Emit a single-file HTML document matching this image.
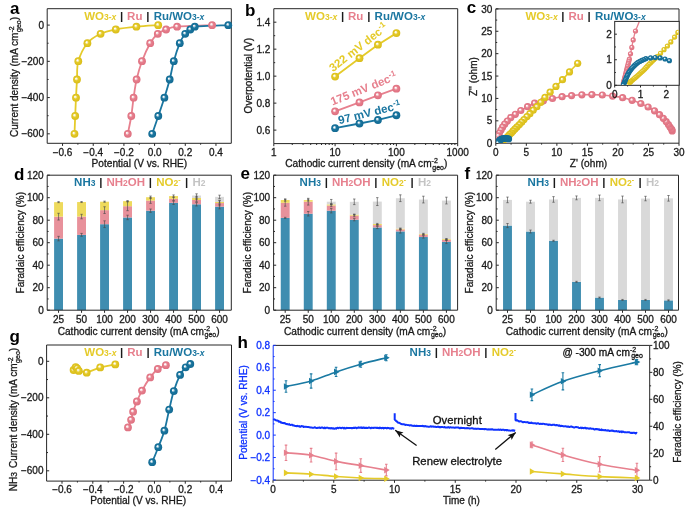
<!DOCTYPE html>
<html><head><meta charset="utf-8"><style>
html,body{margin:0;padding:0;background:#fff;}
svg{display:block;will-change:transform;}
</style></head><body>
<svg width="685" height="512" viewBox="0 0 685 512" font-family='"Liberation Sans", sans-serif'>
<defs>
<radialGradient id="gy" cx="0.5" cy="0.5" r="0.5" fx="0.38" fy="0.36"><stop offset="0" stop-color="#ffffff"/><stop offset="0.14" stop-color="#ffffff" stop-opacity="0.8"/><stop offset="0.46" stop-color="#E5CB2A"/><stop offset="1" stop-color="#D9BC18"/></radialGradient>
<radialGradient id="gp" cx="0.5" cy="0.5" r="0.5" fx="0.38" fy="0.36"><stop offset="0" stop-color="#ffffff"/><stop offset="0.14" stop-color="#ffffff" stop-opacity="0.8"/><stop offset="0.46" stop-color="#E7808E"/><stop offset="1" stop-color="#DE7080"/></radialGradient>
<radialGradient id="gb" cx="0.5" cy="0.5" r="0.5" fx="0.38" fy="0.36"><stop offset="0" stop-color="#ffffff"/><stop offset="0.14" stop-color="#ffffff" stop-opacity="0.8"/><stop offset="0.46" stop-color="#1A76A0"/><stop offset="1" stop-color="#136A92"/></radialGradient>
</defs>
<rect width="685" height="512" fill="#ffffff"/>
<text x="10" y="13.7" font-size="17" text-anchor="start" fill="#000" font-weight="bold" >a</text>
<text x="245" y="16" font-size="17" text-anchor="start" fill="#000" font-weight="bold" >b</text>
<text x="466.8" y="13.4" font-size="17" text-anchor="start" fill="#000" font-weight="bold" >c</text>
<text x="14" y="179.6" font-size="17" text-anchor="start" fill="#000" font-weight="bold" >d</text>
<text x="240.6" y="179" font-size="17" text-anchor="start" fill="#000" font-weight="bold" >e</text>
<text x="464.6" y="179.1" font-size="17" text-anchor="start" fill="#000" font-weight="bold" >f</text>
<text x="9.6" y="342.2" font-size="17" text-anchor="start" fill="#000" font-weight="bold" >g</text>
<text x="237.4" y="348.4" font-size="17" text-anchor="start" fill="#000" font-weight="bold" >h</text>
<path d="M47.2,8.7 L47.2,143.3 L231.3,143.3" fill="none" stroke="#262626" stroke-width="1"/>
<line x1="47.2" y1="8.7" x2="231.3" y2="8.7" stroke="#262626" stroke-width="1"/>
<line x1="231.3" y1="8.7" x2="231.3" y2="143.3" stroke="#262626" stroke-width="1"/>
<line x1="62.54" y1="143.3" x2="62.54" y2="145.9" stroke="#262626" stroke-width="1"/>
<text x="62.54" y="156" font-size="10" text-anchor="middle" fill="#1a1a1a" stroke="#1a1a1a" stroke-width="0.3" >−0.6</text>
<line x1="93.22" y1="143.3" x2="93.22" y2="145.9" stroke="#262626" stroke-width="1"/>
<text x="93.22" y="156" font-size="10" text-anchor="middle" fill="#1a1a1a" stroke="#1a1a1a" stroke-width="0.3" >−0.4</text>
<line x1="123.91" y1="143.3" x2="123.91" y2="145.9" stroke="#262626" stroke-width="1"/>
<text x="123.91" y="156" font-size="10" text-anchor="middle" fill="#1a1a1a" stroke="#1a1a1a" stroke-width="0.3" >−0.2</text>
<line x1="154.59" y1="143.3" x2="154.59" y2="145.9" stroke="#262626" stroke-width="1"/>
<text x="154.59" y="156" font-size="10" text-anchor="middle" fill="#1a1a1a" stroke="#1a1a1a" stroke-width="0.3" >0.0</text>
<line x1="185.28" y1="143.3" x2="185.28" y2="145.9" stroke="#262626" stroke-width="1"/>
<text x="185.28" y="156" font-size="10" text-anchor="middle" fill="#1a1a1a" stroke="#1a1a1a" stroke-width="0.3" >0.2</text>
<line x1="215.96" y1="143.3" x2="215.96" y2="145.9" stroke="#262626" stroke-width="1"/>
<text x="215.96" y="156" font-size="10" text-anchor="middle" fill="#1a1a1a" stroke="#1a1a1a" stroke-width="0.3" >0.4</text>
<line x1="77.88" y1="143.3" x2="77.88" y2="144.7" stroke="#262626" stroke-width="1"/>
<line x1="108.57" y1="143.3" x2="108.57" y2="144.7" stroke="#262626" stroke-width="1"/>
<line x1="139.25" y1="143.3" x2="139.25" y2="144.7" stroke="#262626" stroke-width="1"/>
<line x1="169.93" y1="143.3" x2="169.93" y2="144.7" stroke="#262626" stroke-width="1"/>
<line x1="200.62" y1="143.3" x2="200.62" y2="144.7" stroke="#262626" stroke-width="1"/>
<line x1="47.2" y1="25.1" x2="49.8" y2="25.1" stroke="#262626" stroke-width="1"/>
<text x="44" y="28.7" font-size="10" text-anchor="end" fill="#1a1a1a" stroke="#1a1a1a" stroke-width="0.3" >0</text>
<line x1="47.2" y1="61.34" x2="49.8" y2="61.34" stroke="#262626" stroke-width="1"/>
<text x="44" y="64.94" font-size="10" text-anchor="end" fill="#1a1a1a" stroke="#1a1a1a" stroke-width="0.3" >−200</text>
<line x1="47.2" y1="97.58" x2="49.8" y2="97.58" stroke="#262626" stroke-width="1"/>
<text x="44" y="101.18" font-size="10" text-anchor="end" fill="#1a1a1a" stroke="#1a1a1a" stroke-width="0.3" >−400</text>
<line x1="47.2" y1="133.82" x2="49.8" y2="133.82" stroke="#262626" stroke-width="1"/>
<text x="44" y="137.42" font-size="10" text-anchor="end" fill="#1a1a1a" stroke="#1a1a1a" stroke-width="0.3" >−600</text>
<line x1="47.2" y1="43.22" x2="48.6" y2="43.22" stroke="#262626" stroke-width="1"/>
<line x1="47.2" y1="79.46" x2="48.6" y2="79.46" stroke="#262626" stroke-width="1"/>
<line x1="47.2" y1="115.7" x2="48.6" y2="115.7" stroke="#262626" stroke-width="1"/>
<text x="139.4" y="167.4" font-size="10.15" text-anchor="middle" fill="#1a1a1a" stroke="#1a1a1a" stroke-width="0.3" >Potential (V vs. RHE)</text>
<text transform="translate(18.2,77) rotate(-90)" font-size="10" text-anchor="middle" fill="#1a1a1a" stroke="#1a1a1a" stroke-width="0.3">Current density (mA cm<tspan font-size="7" dy="-4.2">-2</tspan><tspan font-size="7" dy="6.9" dx="-5.6">geo</tspan><tspan dy="-2.7">)</tspan></text>
<text x="84.2" y="19.8" font-size="11.5" text-anchor="start" fill="#E5CB2A" font-weight="bold" >WO<tspan font-size="8.5">3-</tspan><tspan font-size="8.5" font-style="italic">x</tspan></text>
<text x="121.6" y="19.8" font-size="11.5" text-anchor="middle" fill="#1a1a1a" font-weight="bold" >|</text>
<text x="127.1" y="19.8" font-size="11.5" text-anchor="start" fill="#E7808E" font-weight="bold" >Ru</text>
<text x="147.9" y="19.8" font-size="11.5" text-anchor="middle" fill="#1a1a1a" font-weight="bold" >|</text>
<text x="153.7" y="19.8" font-size="11.5" text-anchor="start" fill="#1A76A0" font-weight="bold" >Ru/WO<tspan font-size="8.5">3-</tspan><tspan font-size="8.5" font-style="italic">x</tspan></text>
<path d="M74.5,133.8 C74.62,130.83 74.95,122.02 75.2,116 C75.45,109.98 75.7,103.78 76,97.7 C76.3,91.62 76.62,85.58 77,79.5 C77.38,73.42 76.57,67.25 78.3,61.2 C80.03,55.15 83.68,47.77 87.4,43.2 C91.12,38.63 95.87,36.08 100.6,33.8 C105.33,31.52 109.83,30.68 115.8,29.5 C121.77,28.32 129.33,27.42 136.4,26.7 C143.47,25.98 154.57,25.45 158.2,25.2" fill="none" stroke="#E5CB2A" stroke-width="1.8"/>
<path d="M127.8,133.8 C128.38,130.83 130.33,122.02 131.3,116 C132.27,109.98 132.72,103.78 133.6,97.7 C134.48,91.62 135.2,85.58 136.6,79.5 C138,73.42 139.73,67.25 142,61.2 C144.27,55.15 147.57,47.77 150.2,43.2 C152.83,38.63 155.15,36.08 157.8,33.8 C160.45,31.52 162.88,30.68 166.1,29.5 C169.32,28.32 169.43,27.42 177.1,26.7 C184.77,25.98 206.27,25.45 212.1,25.2" fill="none" stroke="#E7808E" stroke-width="1.8"/>
<path d="M152.2,133.8 C153.22,130.83 156.27,122.02 158.3,116 C160.33,109.98 162.5,103.78 164.4,97.7 C166.3,91.62 168.13,85.58 169.7,79.5 C171.27,73.42 172.12,67.25 173.8,61.2 C175.48,55.15 177.9,47.77 179.8,43.2 C181.7,38.63 183.45,36.08 185.2,33.8 C186.95,31.52 188.7,30.68 190.3,29.5 C191.9,28.32 188.47,27.42 194.8,26.7 C201.13,25.98 222.72,25.45 228.3,25.2" fill="none" stroke="#1A76A0" stroke-width="1.8"/>
<circle cx="74.5" cy="133.8" r="3.9" fill="url(#gy)"/>
<circle cx="75.2" cy="116" r="3.9" fill="url(#gy)"/>
<circle cx="76" cy="97.7" r="3.9" fill="url(#gy)"/>
<circle cx="77" cy="79.5" r="3.9" fill="url(#gy)"/>
<circle cx="78.3" cy="61.2" r="3.9" fill="url(#gy)"/>
<circle cx="87.4" cy="43.2" r="3.9" fill="url(#gy)"/>
<circle cx="100.6" cy="33.8" r="3.9" fill="url(#gy)"/>
<circle cx="115.8" cy="29.5" r="3.9" fill="url(#gy)"/>
<circle cx="136.4" cy="26.7" r="3.9" fill="url(#gy)"/>
<circle cx="158.2" cy="25.2" r="3.9" fill="url(#gy)"/>
<circle cx="127.8" cy="133.8" r="3.9" fill="url(#gp)"/>
<circle cx="131.3" cy="116" r="3.9" fill="url(#gp)"/>
<circle cx="133.6" cy="97.7" r="3.9" fill="url(#gp)"/>
<circle cx="136.6" cy="79.5" r="3.9" fill="url(#gp)"/>
<circle cx="142" cy="61.2" r="3.9" fill="url(#gp)"/>
<circle cx="150.2" cy="43.2" r="3.9" fill="url(#gp)"/>
<circle cx="157.8" cy="33.8" r="3.9" fill="url(#gp)"/>
<circle cx="166.1" cy="29.5" r="3.9" fill="url(#gp)"/>
<circle cx="177.1" cy="26.7" r="3.9" fill="url(#gp)"/>
<circle cx="212.1" cy="25.2" r="3.9" fill="url(#gp)"/>
<circle cx="152.2" cy="133.8" r="3.9" fill="url(#gb)"/>
<circle cx="158.3" cy="116" r="3.9" fill="url(#gb)"/>
<circle cx="164.4" cy="97.7" r="3.9" fill="url(#gb)"/>
<circle cx="169.7" cy="79.5" r="3.9" fill="url(#gb)"/>
<circle cx="173.8" cy="61.2" r="3.9" fill="url(#gb)"/>
<circle cx="179.8" cy="43.2" r="3.9" fill="url(#gb)"/>
<circle cx="185.2" cy="33.8" r="3.9" fill="url(#gb)"/>
<circle cx="190.3" cy="29.5" r="3.9" fill="url(#gb)"/>
<circle cx="194.8" cy="26.7" r="3.9" fill="url(#gb)"/>
<circle cx="228.3" cy="25.2" r="3.9" fill="url(#gb)"/>
<path d="M273.8,8.7 L273.8,143.6 L457.7,143.6" fill="none" stroke="#262626" stroke-width="1"/>
<line x1="273.8" y1="8.7" x2="457.7" y2="8.7" stroke="#262626" stroke-width="1"/>
<line x1="457.7" y1="8.7" x2="457.7" y2="143.6" stroke="#262626" stroke-width="1"/>
<line x1="273.8" y1="143.6" x2="273.8" y2="146.2" stroke="#262626" stroke-width="1"/>
<text x="273.8" y="156.3" font-size="10" text-anchor="middle" fill="#1a1a1a" stroke="#1a1a1a" stroke-width="0.3" >1</text>
<line x1="335.1" y1="143.6" x2="335.1" y2="146.2" stroke="#262626" stroke-width="1"/>
<text x="335.1" y="156.3" font-size="10" text-anchor="middle" fill="#1a1a1a" stroke="#1a1a1a" stroke-width="0.3" >10</text>
<line x1="396.4" y1="143.6" x2="396.4" y2="146.2" stroke="#262626" stroke-width="1"/>
<text x="396.4" y="156.3" font-size="10" text-anchor="middle" fill="#1a1a1a" stroke="#1a1a1a" stroke-width="0.3" >100</text>
<line x1="457.7" y1="143.6" x2="457.7" y2="146.2" stroke="#262626" stroke-width="1"/>
<text x="457.7" y="156.3" font-size="10" text-anchor="middle" fill="#1a1a1a" stroke="#1a1a1a" stroke-width="0.3" >1000</text>
<line x1="292.25" y1="143.6" x2="292.25" y2="145" stroke="#262626" stroke-width="1"/>
<line x1="303.05" y1="143.6" x2="303.05" y2="145" stroke="#262626" stroke-width="1"/>
<line x1="310.71" y1="143.6" x2="310.71" y2="145" stroke="#262626" stroke-width="1"/>
<line x1="316.65" y1="143.6" x2="316.65" y2="145" stroke="#262626" stroke-width="1"/>
<line x1="321.5" y1="143.6" x2="321.5" y2="145" stroke="#262626" stroke-width="1"/>
<line x1="325.6" y1="143.6" x2="325.6" y2="145" stroke="#262626" stroke-width="1"/>
<line x1="329.16" y1="143.6" x2="329.16" y2="145" stroke="#262626" stroke-width="1"/>
<line x1="332.3" y1="143.6" x2="332.3" y2="145" stroke="#262626" stroke-width="1"/>
<line x1="353.55" y1="143.6" x2="353.55" y2="145" stroke="#262626" stroke-width="1"/>
<line x1="364.35" y1="143.6" x2="364.35" y2="145" stroke="#262626" stroke-width="1"/>
<line x1="372.01" y1="143.6" x2="372.01" y2="145" stroke="#262626" stroke-width="1"/>
<line x1="377.95" y1="143.6" x2="377.95" y2="145" stroke="#262626" stroke-width="1"/>
<line x1="382.8" y1="143.6" x2="382.8" y2="145" stroke="#262626" stroke-width="1"/>
<line x1="386.9" y1="143.6" x2="386.9" y2="145" stroke="#262626" stroke-width="1"/>
<line x1="390.46" y1="143.6" x2="390.46" y2="145" stroke="#262626" stroke-width="1"/>
<line x1="393.6" y1="143.6" x2="393.6" y2="145" stroke="#262626" stroke-width="1"/>
<line x1="414.85" y1="143.6" x2="414.85" y2="145" stroke="#262626" stroke-width="1"/>
<line x1="425.65" y1="143.6" x2="425.65" y2="145" stroke="#262626" stroke-width="1"/>
<line x1="433.31" y1="143.6" x2="433.31" y2="145" stroke="#262626" stroke-width="1"/>
<line x1="439.25" y1="143.6" x2="439.25" y2="145" stroke="#262626" stroke-width="1"/>
<line x1="444.1" y1="143.6" x2="444.1" y2="145" stroke="#262626" stroke-width="1"/>
<line x1="448.2" y1="143.6" x2="448.2" y2="145" stroke="#262626" stroke-width="1"/>
<line x1="451.76" y1="143.6" x2="451.76" y2="145" stroke="#262626" stroke-width="1"/>
<line x1="454.9" y1="143.6" x2="454.9" y2="145" stroke="#262626" stroke-width="1"/>
<line x1="273.8" y1="130.11" x2="276.4" y2="130.11" stroke="#262626" stroke-width="1"/>
<text x="270.3" y="133.71" font-size="10" text-anchor="end" fill="#1a1a1a" stroke="#1a1a1a" stroke-width="0.3" >0.6</text>
<line x1="273.8" y1="103.13" x2="276.4" y2="103.13" stroke="#262626" stroke-width="1"/>
<text x="270.3" y="106.73" font-size="10" text-anchor="end" fill="#1a1a1a" stroke="#1a1a1a" stroke-width="0.3" >0.8</text>
<line x1="273.8" y1="76.15" x2="276.4" y2="76.15" stroke="#262626" stroke-width="1"/>
<text x="270.3" y="79.75" font-size="10" text-anchor="end" fill="#1a1a1a" stroke="#1a1a1a" stroke-width="0.3" >1.0</text>
<line x1="273.8" y1="49.17" x2="276.4" y2="49.17" stroke="#262626" stroke-width="1"/>
<text x="270.3" y="52.77" font-size="10" text-anchor="end" fill="#1a1a1a" stroke="#1a1a1a" stroke-width="0.3" >1.2</text>
<line x1="273.8" y1="22.19" x2="276.4" y2="22.19" stroke="#262626" stroke-width="1"/>
<text x="270.3" y="25.79" font-size="10" text-anchor="end" fill="#1a1a1a" stroke="#1a1a1a" stroke-width="0.3" >1.4</text>
<line x1="273.8" y1="116.62" x2="275.2" y2="116.62" stroke="#262626" stroke-width="1"/>
<line x1="273.8" y1="89.64" x2="275.2" y2="89.64" stroke="#262626" stroke-width="1"/>
<line x1="273.8" y1="62.66" x2="275.2" y2="62.66" stroke="#262626" stroke-width="1"/>
<line x1="273.8" y1="35.68" x2="275.2" y2="35.68" stroke="#262626" stroke-width="1"/>
<text x="366.3" y="167.4" font-size="10.15" text-anchor="middle" fill="#1a1a1a" stroke="#1a1a1a" stroke-width="0.3" >Cathodic current density (mA cm<tspan font-size="7" dy="-4.2">-2</tspan><tspan font-size="7" dy="6.9" dx="-5.6">geo</tspan><tspan dy="-2.7">)</tspan></text>
<text transform="translate(252.3,75.6) rotate(-90)" font-size="10" text-anchor="middle" fill="#1a1a1a" stroke="#1a1a1a" stroke-width="0.3">Overpotential (V)</text>
<text x="305.1" y="19.8" font-size="11.5" text-anchor="start" fill="#E5CB2A" font-weight="bold" >WO<tspan font-size="8.5">3-</tspan><tspan font-size="8.5" font-style="italic">x</tspan></text>
<text x="342.5" y="19.8" font-size="11.5" text-anchor="middle" fill="#1a1a1a" font-weight="bold" >|</text>
<text x="348" y="19.8" font-size="11.5" text-anchor="start" fill="#E7808E" font-weight="bold" >Ru</text>
<text x="368.8" y="19.8" font-size="11.5" text-anchor="middle" fill="#1a1a1a" font-weight="bold" >|</text>
<text x="374.6" y="19.8" font-size="11.5" text-anchor="start" fill="#1A76A0" font-weight="bold" >Ru/WO<tspan font-size="8.5">3-</tspan><tspan font-size="8.5" font-style="italic">x</tspan></text>
<polyline points="335.1,76.55 359.49,58.21 377.95,44.72 396.4,33.12" fill="none" stroke="#E5CB2A" stroke-width="1.8" stroke-linejoin="round"/>
<circle cx="335.1" cy="76.55" r="3.9" fill="url(#gy)"/>
<circle cx="359.49" cy="58.21" r="3.9" fill="url(#gy)"/>
<circle cx="377.95" cy="44.72" r="3.9" fill="url(#gy)"/>
<circle cx="396.4" cy="33.12" r="3.9" fill="url(#gy)"/>
<polyline points="335.1,111.36 359.49,102.46 377.95,95.31 396.4,88.7" fill="none" stroke="#E7808E" stroke-width="1.8" stroke-linejoin="round"/>
<circle cx="335.1" cy="111.36" r="3.9" fill="url(#gp)"/>
<circle cx="359.49" cy="102.46" r="3.9" fill="url(#gp)"/>
<circle cx="377.95" cy="95.31" r="3.9" fill="url(#gp)"/>
<circle cx="396.4" cy="88.7" r="3.9" fill="url(#gp)"/>
<polyline points="335.1,128.22 359.49,123.5 377.95,119.99 396.4,115.27" fill="none" stroke="#1A76A0" stroke-width="1.8" stroke-linejoin="round"/>
<circle cx="335.1" cy="128.22" r="3.9" fill="url(#gb)"/>
<circle cx="359.49" cy="123.5" r="3.9" fill="url(#gb)"/>
<circle cx="377.95" cy="119.99" r="3.9" fill="url(#gb)"/>
<circle cx="396.4" cy="115.27" r="3.9" fill="url(#gb)"/>
<text transform="translate(333,72.2) rotate(-38)" font-size="11.5" text-anchor="start" fill="#E5CB2A" font-weight="bold">322 mV dec<tspan font-size="8" dy="-4.5">-1</tspan></text>
<text transform="translate(332.6,105.6) rotate(-22)" font-size="11.5" text-anchor="start" fill="#E7808E" font-weight="bold">175 mV dec<tspan font-size="8" dy="-4.5">-1</tspan></text>
<text transform="translate(339.3,124.2) rotate(-14)" font-size="11.5" text-anchor="start" fill="#1A76A0" font-weight="bold">97 mV dec<tspan font-size="8" dy="-4.5">-1</tspan></text>
<path d="M495.8,8.9 L495.8,143.2 L679,143.2" fill="none" stroke="#262626" stroke-width="1"/>
<line x1="495.8" y1="8.9" x2="679" y2="8.9" stroke="#262626" stroke-width="1"/>
<line x1="679" y1="8.9" x2="679" y2="143.2" stroke="#262626" stroke-width="1"/>
<line x1="495.8" y1="143.2" x2="495.8" y2="145.8" stroke="#262626" stroke-width="1"/>
<text x="495.8" y="156.3" font-size="10" text-anchor="middle" fill="#1a1a1a" stroke="#1a1a1a" stroke-width="0.3" >0</text>
<line x1="495.8" y1="143.2" x2="498.4" y2="143.2" stroke="#262626" stroke-width="1"/>
<text x="492.3" y="146.8" font-size="10" text-anchor="end" fill="#1a1a1a" stroke="#1a1a1a" stroke-width="0.3" >0</text>
<line x1="526.33" y1="143.2" x2="526.33" y2="145.8" stroke="#262626" stroke-width="1"/>
<text x="526.33" y="156.3" font-size="10" text-anchor="middle" fill="#1a1a1a" stroke="#1a1a1a" stroke-width="0.3" >5</text>
<line x1="495.8" y1="120.82" x2="498.4" y2="120.82" stroke="#262626" stroke-width="1"/>
<text x="492.3" y="124.42" font-size="10" text-anchor="end" fill="#1a1a1a" stroke="#1a1a1a" stroke-width="0.3" >5</text>
<line x1="556.87" y1="143.2" x2="556.87" y2="145.8" stroke="#262626" stroke-width="1"/>
<text x="556.87" y="156.3" font-size="10" text-anchor="middle" fill="#1a1a1a" stroke="#1a1a1a" stroke-width="0.3" >10</text>
<line x1="495.8" y1="98.43" x2="498.4" y2="98.43" stroke="#262626" stroke-width="1"/>
<text x="492.3" y="102.03" font-size="10" text-anchor="end" fill="#1a1a1a" stroke="#1a1a1a" stroke-width="0.3" >10</text>
<line x1="587.4" y1="143.2" x2="587.4" y2="145.8" stroke="#262626" stroke-width="1"/>
<text x="587.4" y="156.3" font-size="10" text-anchor="middle" fill="#1a1a1a" stroke="#1a1a1a" stroke-width="0.3" >15</text>
<line x1="495.8" y1="76.05" x2="498.4" y2="76.05" stroke="#262626" stroke-width="1"/>
<text x="492.3" y="79.65" font-size="10" text-anchor="end" fill="#1a1a1a" stroke="#1a1a1a" stroke-width="0.3" >15</text>
<line x1="617.93" y1="143.2" x2="617.93" y2="145.8" stroke="#262626" stroke-width="1"/>
<text x="617.93" y="156.3" font-size="10" text-anchor="middle" fill="#1a1a1a" stroke="#1a1a1a" stroke-width="0.3" >20</text>
<line x1="495.8" y1="53.67" x2="498.4" y2="53.67" stroke="#262626" stroke-width="1"/>
<text x="492.3" y="57.27" font-size="10" text-anchor="end" fill="#1a1a1a" stroke="#1a1a1a" stroke-width="0.3" >20</text>
<line x1="648.47" y1="143.2" x2="648.47" y2="145.8" stroke="#262626" stroke-width="1"/>
<text x="648.47" y="156.3" font-size="10" text-anchor="middle" fill="#1a1a1a" stroke="#1a1a1a" stroke-width="0.3" >25</text>
<line x1="495.8" y1="31.28" x2="498.4" y2="31.28" stroke="#262626" stroke-width="1"/>
<text x="492.3" y="34.88" font-size="10" text-anchor="end" fill="#1a1a1a" stroke="#1a1a1a" stroke-width="0.3" >25</text>
<line x1="679" y1="143.2" x2="679" y2="145.8" stroke="#262626" stroke-width="1"/>
<text x="679" y="156.3" font-size="10" text-anchor="middle" fill="#1a1a1a" stroke="#1a1a1a" stroke-width="0.3" >30</text>
<line x1="495.8" y1="8.9" x2="498.4" y2="8.9" stroke="#262626" stroke-width="1"/>
<text x="492.3" y="12.5" font-size="10" text-anchor="end" fill="#1a1a1a" stroke="#1a1a1a" stroke-width="0.3" >30</text>
<line x1="511.07" y1="143.2" x2="511.07" y2="144.6" stroke="#262626" stroke-width="1"/>
<line x1="495.8" y1="132.01" x2="497.2" y2="132.01" stroke="#262626" stroke-width="1"/>
<line x1="541.6" y1="143.2" x2="541.6" y2="144.6" stroke="#262626" stroke-width="1"/>
<line x1="495.8" y1="109.62" x2="497.2" y2="109.62" stroke="#262626" stroke-width="1"/>
<line x1="572.13" y1="143.2" x2="572.13" y2="144.6" stroke="#262626" stroke-width="1"/>
<line x1="495.8" y1="87.24" x2="497.2" y2="87.24" stroke="#262626" stroke-width="1"/>
<line x1="602.67" y1="143.2" x2="602.67" y2="144.6" stroke="#262626" stroke-width="1"/>
<line x1="495.8" y1="64.86" x2="497.2" y2="64.86" stroke="#262626" stroke-width="1"/>
<line x1="633.2" y1="143.2" x2="633.2" y2="144.6" stroke="#262626" stroke-width="1"/>
<line x1="495.8" y1="42.47" x2="497.2" y2="42.47" stroke="#262626" stroke-width="1"/>
<line x1="663.73" y1="143.2" x2="663.73" y2="144.6" stroke="#262626" stroke-width="1"/>
<line x1="495.8" y1="20.09" x2="497.2" y2="20.09" stroke="#262626" stroke-width="1"/>
<text x="588.5" y="167.4" font-size="10.15" text-anchor="middle" fill="#1a1a1a" stroke="#1a1a1a" stroke-width="0.3" >Z' (ohm)</text>
<text transform="translate(477.1,76.6) rotate(-90)" font-size="10" text-anchor="middle" fill="#1a1a1a" stroke="#1a1a1a" stroke-width="0.3">Z'' (ohm)</text>
<text x="525.5" y="19.8" font-size="11.5" text-anchor="start" fill="#E5CB2A" font-weight="bold" >WO<tspan font-size="8.5">3-</tspan><tspan font-size="8.5" font-style="italic">x</tspan></text>
<text x="562.9" y="19.8" font-size="11.5" text-anchor="middle" fill="#1a1a1a" font-weight="bold" >|</text>
<text x="568.4" y="19.8" font-size="11.5" text-anchor="start" fill="#E7808E" font-weight="bold" >Ru</text>
<text x="589.2" y="19.8" font-size="11.5" text-anchor="middle" fill="#1a1a1a" font-weight="bold" >|</text>
<text x="595" y="19.8" font-size="11.5" text-anchor="start" fill="#1A76A0" font-weight="bold" >Ru/WO<tspan font-size="8.5">3-</tspan><tspan font-size="8.5" font-style="italic">x</tspan></text>
<clipPath id="cc"><rect x="496.3" y="8.9" width="183.2" height="133.8"/></clipPath>
<g clip-path="url(#cc)">
<path d="M672.2,130.9 C672.12,130.63 672.07,129.93 671.7,129.3 C671.33,128.67 670.55,127.9 670,127.1 C669.45,126.3 669.03,125.42 668.4,124.5 C667.77,123.58 667.05,122.63 666.2,121.6 C665.35,120.57 664.42,119.45 663.3,118.3 C662.18,117.15 660.97,115.95 659.5,114.7 C658.03,113.45 656.4,112.08 654.5,110.8 C652.6,109.52 650.38,108.22 648.1,107 C645.82,105.78 643.47,104.62 640.8,103.5 C638.13,102.38 635.13,101.27 632.1,100.3 C629.07,99.33 625.85,98.4 622.6,97.7 C619.35,97 615.98,96.55 612.6,96.1 C609.22,95.65 605.75,95.25 602.3,95 C598.85,94.75 595.3,94.63 591.9,94.6 C588.5,94.57 585.28,94.63 581.9,94.8 C578.52,94.97 574.9,95.28 571.6,95.6 C568.3,95.92 565.28,96.22 562.1,96.7 C558.92,97.18 555.62,97.82 552.5,98.5 C549.38,99.18 546.38,100.02 543.4,100.8 C540.42,101.58 537.23,102.22 534.6,103.2 C531.97,104.18 529.9,105.48 527.6,106.7 C525.3,107.92 522.85,109.23 520.8,110.5 C518.75,111.77 516.97,113.12 515.3,114.3 C513.63,115.48 512.13,116.47 510.8,117.6 C509.47,118.73 508.32,120 507.3,121.1 C506.28,122.2 505.48,123.18 504.7,124.2 C503.92,125.22 503.22,126.22 502.6,127.2 C501.98,128.18 501.53,129.13 501,130.1 C500.47,131.07 499.85,132.05 499.4,133 C498.95,133.95 498.45,134.47 498.3,135.8 C498.15,137.13 498.49,140.05 498.5,140.99 C498.5,141.94 498.39,141.31 498.33,141.47 C498.28,141.63 498.22,141.8 498.17,141.96 C498.11,142.12 498.06,142.27 498,142.43 C497.95,142.58 497.86,142.81 497.84,142.88" fill="none" stroke="#E7808E" stroke-width="1.6"/>
<circle cx="672.2" cy="130.9" r="3.6" fill="url(#gp)"/>
<circle cx="671.7" cy="129.3" r="3.6" fill="url(#gp)"/>
<circle cx="670" cy="127.1" r="3.6" fill="url(#gp)"/>
<circle cx="668.4" cy="124.5" r="3.6" fill="url(#gp)"/>
<circle cx="666.2" cy="121.6" r="3.6" fill="url(#gp)"/>
<circle cx="663.3" cy="118.3" r="3.6" fill="url(#gp)"/>
<circle cx="659.5" cy="114.7" r="3.6" fill="url(#gp)"/>
<circle cx="654.5" cy="110.8" r="3.6" fill="url(#gp)"/>
<circle cx="648.1" cy="107" r="3.6" fill="url(#gp)"/>
<circle cx="640.8" cy="103.5" r="3.6" fill="url(#gp)"/>
<circle cx="632.1" cy="100.3" r="3.6" fill="url(#gp)"/>
<circle cx="622.6" cy="97.7" r="3.6" fill="url(#gp)"/>
<circle cx="612.6" cy="96.1" r="3.6" fill="url(#gp)"/>
<circle cx="602.3" cy="95" r="3.6" fill="url(#gp)"/>
<circle cx="591.9" cy="94.6" r="3.6" fill="url(#gp)"/>
<circle cx="581.9" cy="94.8" r="3.6" fill="url(#gp)"/>
<circle cx="571.6" cy="95.6" r="3.6" fill="url(#gp)"/>
<circle cx="562.1" cy="96.7" r="3.6" fill="url(#gp)"/>
<circle cx="552.5" cy="98.5" r="3.6" fill="url(#gp)"/>
<circle cx="543.4" cy="100.8" r="3.6" fill="url(#gp)"/>
<circle cx="534.6" cy="103.2" r="3.6" fill="url(#gp)"/>
<circle cx="527.6" cy="106.7" r="3.6" fill="url(#gp)"/>
<circle cx="520.8" cy="110.5" r="3.6" fill="url(#gp)"/>
<circle cx="515.3" cy="114.3" r="3.6" fill="url(#gp)"/>
<circle cx="510.8" cy="117.6" r="3.6" fill="url(#gp)"/>
<circle cx="507.3" cy="121.1" r="3.6" fill="url(#gp)"/>
<circle cx="504.7" cy="124.2" r="3.6" fill="url(#gp)"/>
<circle cx="502.6" cy="127.2" r="3.6" fill="url(#gp)"/>
<circle cx="501" cy="130.1" r="3.6" fill="url(#gp)"/>
<circle cx="499.4" cy="133" r="3.6" fill="url(#gp)"/>
<circle cx="498.3" cy="135.8" r="3.6" fill="url(#gp)"/>
<circle cx="498.5" cy="140.99" r="3.6" fill="url(#gp)"/>
<circle cx="498.33" cy="141.47" r="3.6" fill="url(#gp)"/>
<circle cx="498.17" cy="141.96" r="3.6" fill="url(#gp)"/>
<circle cx="498" cy="142.43" r="3.6" fill="url(#gp)"/>
<circle cx="497.84" cy="142.88" r="3.6" fill="url(#gp)"/>
<path d="M577.7,63.3 C576.33,64.73 572.03,69.17 569.5,71.9 C566.97,74.63 564.75,77.28 562.5,79.7 C560.25,82.12 558.07,84.32 556,86.4 C553.93,88.48 551.93,90.37 550.1,92.2 C548.27,94.03 546.55,95.72 545,97.4 C543.45,99.08 542.15,100.75 540.8,102.3 C539.45,103.85 538.17,105.38 536.9,106.7 C535.63,108.02 534.37,109.03 533.2,110.2 C532.03,111.37 530.93,112.63 529.9,113.7 C528.87,114.77 527.98,115.62 527,116.6 C526.02,117.58 524.88,118.67 524,119.6 C523.12,120.53 522.47,121.37 521.7,122.2 C520.93,123.03 520.18,123.82 519.4,124.6 C518.62,125.38 517.73,126.18 517,126.9 C516.27,127.62 515.65,128.23 515,128.9 C514.35,129.57 513.68,130.25 513.1,130.9 C512.52,131.55 512.07,132.22 511.5,132.8 C510.93,133.38 510.25,133.87 509.7,134.4 C509.15,134.93 508.68,135.48 508.2,136 C507.72,136.52 507.28,137.02 506.8,137.5 C506.32,137.98 505.59,138.7 505.3,138.9 C505.01,139.1 505.2,138.66 505.03,138.72 C504.86,138.78 504.54,139.08 504.3,139.26 C504.05,139.44 503.79,139.62 503.56,139.8 C503.33,139.98 503.14,140.16 502.92,140.33 C502.71,140.49 502.5,140.65 502.29,140.8 C502.07,140.95 501.84,141.1 501.62,141.24 C501.41,141.38 501.2,141.52 500.98,141.66 C500.77,141.8 500.56,141.92 500.34,142.06 C500.13,142.2 499.9,142.35 499.68,142.48 C499.46,142.62 499.23,142.75 499.04,142.87 C498.85,142.99 498.63,143.14 498.55,143.2" fill="none" stroke="#E5CB2A" stroke-width="1.6"/>
<circle cx="577.7" cy="63.3" r="3.6" fill="url(#gy)"/>
<circle cx="569.5" cy="71.9" r="3.6" fill="url(#gy)"/>
<circle cx="562.5" cy="79.7" r="3.6" fill="url(#gy)"/>
<circle cx="556" cy="86.4" r="3.6" fill="url(#gy)"/>
<circle cx="550.1" cy="92.2" r="3.6" fill="url(#gy)"/>
<circle cx="545" cy="97.4" r="3.6" fill="url(#gy)"/>
<circle cx="540.8" cy="102.3" r="3.6" fill="url(#gy)"/>
<circle cx="536.9" cy="106.7" r="3.6" fill="url(#gy)"/>
<circle cx="533.2" cy="110.2" r="3.6" fill="url(#gy)"/>
<circle cx="529.9" cy="113.7" r="3.6" fill="url(#gy)"/>
<circle cx="527" cy="116.6" r="3.6" fill="url(#gy)"/>
<circle cx="524" cy="119.6" r="3.6" fill="url(#gy)"/>
<circle cx="521.7" cy="122.2" r="3.6" fill="url(#gy)"/>
<circle cx="519.4" cy="124.6" r="3.6" fill="url(#gy)"/>
<circle cx="517" cy="126.9" r="3.6" fill="url(#gy)"/>
<circle cx="515" cy="128.9" r="3.6" fill="url(#gy)"/>
<circle cx="513.1" cy="130.9" r="3.6" fill="url(#gy)"/>
<circle cx="511.5" cy="132.8" r="3.6" fill="url(#gy)"/>
<circle cx="509.7" cy="134.4" r="3.6" fill="url(#gy)"/>
<circle cx="508.2" cy="136" r="3.6" fill="url(#gy)"/>
<circle cx="506.8" cy="137.5" r="3.6" fill="url(#gy)"/>
<circle cx="505.3" cy="138.9" r="3.6" fill="url(#gy)"/>
<circle cx="505.03" cy="138.72" r="3.6" fill="url(#gy)"/>
<circle cx="504.3" cy="139.26" r="3.6" fill="url(#gy)"/>
<circle cx="503.56" cy="139.8" r="3.6" fill="url(#gy)"/>
<circle cx="502.92" cy="140.33" r="3.6" fill="url(#gy)"/>
<circle cx="502.29" cy="140.8" r="3.6" fill="url(#gy)"/>
<circle cx="501.62" cy="141.24" r="3.6" fill="url(#gy)"/>
<circle cx="500.98" cy="141.66" r="3.6" fill="url(#gy)"/>
<circle cx="500.34" cy="142.06" r="3.6" fill="url(#gy)"/>
<circle cx="499.68" cy="142.48" r="3.6" fill="url(#gy)"/>
<circle cx="499.04" cy="142.87" r="3.6" fill="url(#gy)"/>
<circle cx="498.55" cy="143.2" r="3.6" fill="url(#gy)"/>
<path d="M508.75,138.89 C508.57,138.84 508.07,138.68 507.71,138.59 C507.34,138.51 506.93,138.44 506.55,138.4 C506.16,138.36 505.76,138.35 505.39,138.35 C505.01,138.35 504.66,138.37 504.3,138.4 C503.93,138.43 503.53,138.47 503.18,138.54 C502.84,138.61 502.53,138.73 502.21,138.84 C501.9,138.95 501.58,139.06 501.31,139.19 C501.05,139.32 500.82,139.48 500.6,139.63 C500.39,139.78 500.19,139.93 500.01,140.08 C499.84,140.23 499.69,140.37 499.54,140.52 C499.39,140.67 499.24,140.84 499.11,140.99 C498.99,141.15 498.88,141.31 498.78,141.47 C498.68,141.63 498.59,141.8 498.5,141.96 C498.41,142.12 498.32,142.28 498.24,142.43 C498.16,142.58 498.07,142.74 498,142.87 C497.93,143 497.84,143.14 497.81,143.2" fill="none" stroke="#1A76A0" stroke-width="1.6"/>
<circle cx="508.75" cy="138.89" r="3.4" fill="url(#gb)"/>
<circle cx="507.71" cy="138.59" r="3.4" fill="url(#gb)"/>
<circle cx="506.55" cy="138.4" r="3.4" fill="url(#gb)"/>
<circle cx="505.39" cy="138.35" r="3.4" fill="url(#gb)"/>
<circle cx="504.3" cy="138.4" r="3.4" fill="url(#gb)"/>
<circle cx="503.18" cy="138.54" r="3.4" fill="url(#gb)"/>
<circle cx="502.21" cy="138.84" r="3.4" fill="url(#gb)"/>
<circle cx="501.31" cy="139.19" r="3.4" fill="url(#gb)"/>
<circle cx="500.6" cy="139.63" r="3.4" fill="url(#gb)"/>
<circle cx="500.01" cy="140.08" r="3.4" fill="url(#gb)"/>
<circle cx="499.54" cy="140.52" r="3.4" fill="url(#gb)"/>
<circle cx="499.11" cy="140.99" r="3.4" fill="url(#gb)"/>
<circle cx="498.78" cy="141.47" r="3.4" fill="url(#gb)"/>
<circle cx="498.5" cy="141.96" r="3.4" fill="url(#gb)"/>
<circle cx="498.24" cy="142.43" r="3.4" fill="url(#gb)"/>
<circle cx="498" cy="142.87" r="3.4" fill="url(#gb)"/>
<circle cx="497.81" cy="143.2" r="3.4" fill="url(#gb)"/>
</g>
<rect x="614.7" y="21.4" width="64.5" height="63.9" fill="#fff" stroke="#262626" stroke-width="1"/>
<line x1="614.7" y1="85.3" x2="614.7" y2="87.5" stroke="#262626" stroke-width="1"/>
<text x="614.7" y="97.5" font-size="10" text-anchor="middle" fill="#1a1a1a" stroke="#1a1a1a" stroke-width="0.3" >0</text>
<line x1="614.7" y1="85.3" x2="616.9" y2="85.3" stroke="#262626" stroke-width="1"/>
<text x="611.7" y="88.9" font-size="10" text-anchor="end" fill="#1a1a1a" stroke="#1a1a1a" stroke-width="0.3" >0</text>
<line x1="640.5" y1="85.3" x2="640.5" y2="87.5" stroke="#262626" stroke-width="1"/>
<text x="640.5" y="97.5" font-size="10" text-anchor="middle" fill="#1a1a1a" stroke="#1a1a1a" stroke-width="0.3" >1</text>
<line x1="614.7" y1="59.74" x2="616.9" y2="59.74" stroke="#262626" stroke-width="1"/>
<text x="611.7" y="63.34" font-size="10" text-anchor="end" fill="#1a1a1a" stroke="#1a1a1a" stroke-width="0.3" >1</text>
<line x1="666.3" y1="85.3" x2="666.3" y2="87.5" stroke="#262626" stroke-width="1"/>
<text x="666.3" y="97.5" font-size="10" text-anchor="middle" fill="#1a1a1a" stroke="#1a1a1a" stroke-width="0.3" >2</text>
<line x1="614.7" y1="34.18" x2="616.9" y2="34.18" stroke="#262626" stroke-width="1"/>
<text x="611.7" y="37.78" font-size="10" text-anchor="end" fill="#1a1a1a" stroke="#1a1a1a" stroke-width="0.3" >2</text>
<line x1="627.6" y1="85.3" x2="627.6" y2="86.5" stroke="#262626" stroke-width="1"/>
<line x1="614.7" y1="72.52" x2="615.9" y2="72.52" stroke="#262626" stroke-width="1"/>
<line x1="653.4" y1="85.3" x2="653.4" y2="86.5" stroke="#262626" stroke-width="1"/>
<line x1="614.7" y1="46.96" x2="615.9" y2="46.96" stroke="#262626" stroke-width="1"/>
<clipPath id="ic"><rect x="615.2" y="21.9" width="63.5" height="62.9"/></clipPath>
<g clip-path="url(#ic)">
<path d="M641,15 C640.72,16.07 640.22,18.73 639.3,21.4 C638.38,24.07 636.52,27.92 635.5,31 C634.48,34.08 633.82,37.17 633.2,39.9 C632.58,42.63 632.25,45.08 631.8,47.4 C631.35,49.72 630.9,51.87 630.5,53.8 C630.1,55.73 629.75,57.45 629.4,59 C629.05,60.55 628.72,61.85 628.4,63.1 C628.08,64.35 627.77,65.4 627.5,66.5 C627.23,67.6 627.03,68.67 626.8,69.7 C626.57,70.73 626.33,71.75 626.1,72.7 C625.87,73.65 625.63,74.48 625.4,75.4 C625.17,76.32 624.93,77.28 624.7,78.2 C624.47,79.12 624.23,80.02 624,80.9 C623.77,81.78 623.42,83.07 623.3,83.5" fill="none" stroke="#E7808E" stroke-width="1.3"/>
<circle cx="635.5" cy="31" r="2.6" fill="url(#gp)"/>
<circle cx="633.2" cy="39.9" r="2.6" fill="url(#gp)"/>
<circle cx="631.8" cy="47.4" r="2.6" fill="url(#gp)"/>
<circle cx="630.5" cy="53.8" r="2.6" fill="url(#gp)"/>
<circle cx="629.4" cy="59" r="2.6" fill="url(#gp)"/>
<circle cx="628.9" cy="61.05" r="2.6" fill="url(#gp)"/>
<circle cx="628.4" cy="63.1" r="2.6" fill="url(#gp)"/>
<circle cx="627.95" cy="64.8" r="2.6" fill="url(#gp)"/>
<circle cx="627.5" cy="66.5" r="2.6" fill="url(#gp)"/>
<circle cx="627.15" cy="68.1" r="2.6" fill="url(#gp)"/>
<circle cx="626.8" cy="69.7" r="2.6" fill="url(#gp)"/>
<circle cx="626.45" cy="71.2" r="2.6" fill="url(#gp)"/>
<circle cx="626.1" cy="72.7" r="2.6" fill="url(#gp)"/>
<circle cx="625.75" cy="74.05" r="2.6" fill="url(#gp)"/>
<circle cx="625.4" cy="75.4" r="2.6" fill="url(#gp)"/>
<circle cx="625.05" cy="76.8" r="2.6" fill="url(#gp)"/>
<circle cx="624.7" cy="78.2" r="2.6" fill="url(#gp)"/>
<circle cx="624.35" cy="79.55" r="2.6" fill="url(#gp)"/>
<circle cx="624" cy="80.9" r="2.6" fill="url(#gp)"/>
<circle cx="623.65" cy="82.2" r="2.6" fill="url(#gp)"/>
<circle cx="623.3" cy="83.5" r="2.6" fill="url(#gp)"/>
<path d="M677.9,32.4 C677.35,33.18 675.78,35.52 674.6,37.1 C673.42,38.68 672,40.42 670.8,41.9 C669.6,43.38 668.53,44.7 667.4,46 C666.27,47.3 665.15,48.48 664,49.7 C662.85,50.92 661.65,52.15 660.5,53.3 C659.35,54.45 658.23,55.53 657.1,56.6 C655.97,57.67 654.78,58.67 653.7,59.7 C652.62,60.73 651.63,61.77 650.6,62.8 C649.57,63.83 648.47,64.88 647.5,65.9 C646.53,66.92 645.7,67.95 644.8,68.9 C643.9,69.85 643.02,70.73 642.1,71.6 C641.18,72.47 640.22,73.28 639.3,74.1 C638.38,74.92 637.5,75.72 636.6,76.5 C635.7,77.28 634.82,78.02 633.9,78.8 C632.98,79.58 632.02,80.43 631.1,81.2 C630.18,81.97 628.48,83.33 628.4,83.4 C628.32,83.47 630.53,81.57 630.6,81.6 C630.67,81.63 629.35,83 628.8,83.6 C628.25,84.2 627.55,84.93 627.3,85.2" fill="none" stroke="#E5CB2A" stroke-width="1.3"/>
<circle cx="677.9" cy="32.4" r="2.6" fill="url(#gy)"/>
<circle cx="674.6" cy="37.1" r="2.6" fill="url(#gy)"/>
<circle cx="670.8" cy="41.9" r="2.6" fill="url(#gy)"/>
<circle cx="667.4" cy="46" r="2.6" fill="url(#gy)"/>
<circle cx="664" cy="49.7" r="2.6" fill="url(#gy)"/>
<circle cx="660.5" cy="53.3" r="2.6" fill="url(#gy)"/>
<circle cx="657.1" cy="56.6" r="2.6" fill="url(#gy)"/>
<circle cx="655.4" cy="58.15" r="2.6" fill="url(#gy)"/>
<circle cx="653.7" cy="59.7" r="2.6" fill="url(#gy)"/>
<circle cx="652.15" cy="61.25" r="2.6" fill="url(#gy)"/>
<circle cx="650.6" cy="62.8" r="2.6" fill="url(#gy)"/>
<circle cx="649.05" cy="64.35" r="2.6" fill="url(#gy)"/>
<circle cx="647.5" cy="65.9" r="2.6" fill="url(#gy)"/>
<circle cx="646.15" cy="67.4" r="2.6" fill="url(#gy)"/>
<circle cx="644.8" cy="68.9" r="2.6" fill="url(#gy)"/>
<circle cx="643.45" cy="70.25" r="2.6" fill="url(#gy)"/>
<circle cx="642.1" cy="71.6" r="2.6" fill="url(#gy)"/>
<circle cx="640.7" cy="72.85" r="2.6" fill="url(#gy)"/>
<circle cx="639.3" cy="74.1" r="2.6" fill="url(#gy)"/>
<circle cx="637.95" cy="75.3" r="2.6" fill="url(#gy)"/>
<circle cx="636.6" cy="76.5" r="2.6" fill="url(#gy)"/>
<circle cx="635.25" cy="77.65" r="2.6" fill="url(#gy)"/>
<circle cx="633.9" cy="78.8" r="2.6" fill="url(#gy)"/>
<circle cx="632.5" cy="80" r="2.6" fill="url(#gy)"/>
<circle cx="631.1" cy="81.2" r="2.6" fill="url(#gy)"/>
<circle cx="629.75" cy="82.3" r="2.6" fill="url(#gy)"/>
<circle cx="628.4" cy="83.4" r="2.6" fill="url(#gy)"/>
<circle cx="629.5" cy="82.5" r="2.6" fill="url(#gy)"/>
<circle cx="630.6" cy="81.6" r="2.6" fill="url(#gy)"/>
<circle cx="629.7" cy="82.6" r="2.6" fill="url(#gy)"/>
<circle cx="628.8" cy="83.6" r="2.6" fill="url(#gy)"/>
<circle cx="628.05" cy="84.4" r="2.6" fill="url(#gy)"/>
<circle cx="627.3" cy="85.2" r="2.6" fill="url(#gy)"/>
<path d="M669.4,60.7 C668.67,60.42 666.55,59.47 665,59 C663.45,58.53 661.73,58.13 660.1,57.9 C658.47,57.67 656.78,57.6 655.2,57.6 C653.62,57.6 652.15,57.72 650.6,57.9 C649.05,58.08 647.37,58.28 645.9,58.7 C644.43,59.12 643.12,59.78 641.8,60.4 C640.48,61.02 639.13,61.65 638,62.4 C636.87,63.15 635.92,64.05 635,64.9 C634.08,65.75 633.25,66.65 632.5,67.5 C631.75,68.35 631.13,69.13 630.5,70 C629.87,70.87 629.23,71.8 628.7,72.7 C628.17,73.6 627.73,74.48 627.3,75.4 C626.87,76.32 626.48,77.28 626.1,78.2 C625.72,79.12 625.35,80.03 625,80.9 C624.65,81.77 624.3,82.67 624,83.4 C623.7,84.13 623.33,84.98 623.2,85.3" fill="none" stroke="#1A76A0" stroke-width="1.3"/>
<circle cx="669.4" cy="60.7" r="2.6" fill="url(#gb)"/>
<circle cx="665" cy="59" r="2.6" fill="url(#gb)"/>
<circle cx="660.1" cy="57.9" r="2.6" fill="url(#gb)"/>
<circle cx="655.2" cy="57.6" r="2.6" fill="url(#gb)"/>
<circle cx="650.6" cy="57.9" r="2.6" fill="url(#gb)"/>
<circle cx="645.9" cy="58.7" r="2.6" fill="url(#gb)"/>
<circle cx="643.85" cy="59.55" r="2.6" fill="url(#gb)"/>
<circle cx="641.8" cy="60.4" r="2.6" fill="url(#gb)"/>
<circle cx="639.9" cy="61.4" r="2.6" fill="url(#gb)"/>
<circle cx="638" cy="62.4" r="2.6" fill="url(#gb)"/>
<circle cx="636.5" cy="63.65" r="2.6" fill="url(#gb)"/>
<circle cx="635" cy="64.9" r="2.6" fill="url(#gb)"/>
<circle cx="633.75" cy="66.2" r="2.6" fill="url(#gb)"/>
<circle cx="632.5" cy="67.5" r="2.6" fill="url(#gb)"/>
<circle cx="631.5" cy="68.75" r="2.6" fill="url(#gb)"/>
<circle cx="630.5" cy="70" r="2.6" fill="url(#gb)"/>
<circle cx="629.6" cy="71.35" r="2.6" fill="url(#gb)"/>
<circle cx="628.7" cy="72.7" r="2.6" fill="url(#gb)"/>
<circle cx="628" cy="74.05" r="2.6" fill="url(#gb)"/>
<circle cx="627.3" cy="75.4" r="2.6" fill="url(#gb)"/>
<circle cx="626.7" cy="76.8" r="2.6" fill="url(#gb)"/>
<circle cx="626.1" cy="78.2" r="2.6" fill="url(#gb)"/>
<circle cx="625.55" cy="79.55" r="2.6" fill="url(#gb)"/>
<circle cx="625" cy="80.9" r="2.6" fill="url(#gb)"/>
<circle cx="624.5" cy="82.15" r="2.6" fill="url(#gb)"/>
<circle cx="624" cy="83.4" r="2.6" fill="url(#gb)"/>
<circle cx="623.6" cy="84.35" r="2.6" fill="url(#gb)"/>
<circle cx="623.2" cy="85.3" r="2.6" fill="url(#gb)"/>
</g>
<line x1="47.2" y1="310.2" x2="49.8" y2="310.2" stroke="#262626" stroke-width="1"/>
<text x="43.7" y="313.8" font-size="10" text-anchor="end" fill="#1a1a1a" stroke="#1a1a1a" stroke-width="0.3" >0</text>
<line x1="47.2" y1="287.7" x2="49.8" y2="287.7" stroke="#262626" stroke-width="1"/>
<text x="43.7" y="291.3" font-size="10" text-anchor="end" fill="#1a1a1a" stroke="#1a1a1a" stroke-width="0.3" >20</text>
<line x1="47.2" y1="265.2" x2="49.8" y2="265.2" stroke="#262626" stroke-width="1"/>
<text x="43.7" y="268.8" font-size="10" text-anchor="end" fill="#1a1a1a" stroke="#1a1a1a" stroke-width="0.3" >40</text>
<line x1="47.2" y1="242.7" x2="49.8" y2="242.7" stroke="#262626" stroke-width="1"/>
<text x="43.7" y="246.3" font-size="10" text-anchor="end" fill="#1a1a1a" stroke="#1a1a1a" stroke-width="0.3" >60</text>
<line x1="47.2" y1="220.2" x2="49.8" y2="220.2" stroke="#262626" stroke-width="1"/>
<text x="43.7" y="223.8" font-size="10" text-anchor="end" fill="#1a1a1a" stroke="#1a1a1a" stroke-width="0.3" >80</text>
<line x1="47.2" y1="197.7" x2="49.8" y2="197.7" stroke="#262626" stroke-width="1"/>
<text x="43.7" y="201.3" font-size="10" text-anchor="end" fill="#1a1a1a" stroke="#1a1a1a" stroke-width="0.3" >100</text>
<line x1="47.2" y1="175.2" x2="49.8" y2="175.2" stroke="#262626" stroke-width="1"/>
<text x="43.7" y="178.8" font-size="10" text-anchor="end" fill="#1a1a1a" stroke="#1a1a1a" stroke-width="0.3" >120</text>
<line x1="47.2" y1="298.95" x2="48.6" y2="298.95" stroke="#262626" stroke-width="1"/>
<line x1="47.2" y1="276.45" x2="48.6" y2="276.45" stroke="#262626" stroke-width="1"/>
<line x1="47.2" y1="253.95" x2="48.6" y2="253.95" stroke="#262626" stroke-width="1"/>
<line x1="47.2" y1="231.45" x2="48.6" y2="231.45" stroke="#262626" stroke-width="1"/>
<line x1="47.2" y1="208.95" x2="48.6" y2="208.95" stroke="#262626" stroke-width="1"/>
<line x1="47.2" y1="186.45" x2="48.6" y2="186.45" stroke="#262626" stroke-width="1"/>
<line x1="58.55" y1="310.2" x2="58.55" y2="312.8" stroke="#262626" stroke-width="1"/>
<text x="58.55" y="322.9" font-size="10" text-anchor="middle" fill="#1a1a1a" stroke="#1a1a1a" stroke-width="0.3" >25</text>
<rect x="54.1" y="238.6" width="8.9" height="71.6" fill="#3F8DB0"/>
<rect x="54.1" y="216.66" width="8.9" height="21.94" fill="#E8919B"/>
<rect x="54.1" y="202.15" width="8.9" height="14.51" fill="#EEDA5C"/>
<line x1="81.55" y1="310.2" x2="81.55" y2="312.8" stroke="#262626" stroke-width="1"/>
<text x="81.55" y="322.9" font-size="10" text-anchor="middle" fill="#1a1a1a" stroke="#1a1a1a" stroke-width="0.3" >50</text>
<rect x="77.1" y="234.89" width="8.9" height="75.31" fill="#3F8DB0"/>
<rect x="77.1" y="216.55" width="8.9" height="18.34" fill="#E8919B"/>
<rect x="77.1" y="202.04" width="8.9" height="14.51" fill="#EEDA5C"/>
<line x1="104.55" y1="310.2" x2="104.55" y2="312.8" stroke="#262626" stroke-width="1"/>
<text x="104.55" y="322.9" font-size="10" text-anchor="middle" fill="#1a1a1a" stroke="#1a1a1a" stroke-width="0.3" >100</text>
<rect x="100.1" y="224.2" width="8.9" height="86" fill="#3F8DB0"/>
<rect x="100.1" y="210.14" width="8.9" height="14.06" fill="#E8919B"/>
<rect x="100.1" y="201.7" width="8.9" height="8.44" fill="#EEDA5C"/>
<line x1="127.55" y1="310.2" x2="127.55" y2="312.8" stroke="#262626" stroke-width="1"/>
<text x="127.55" y="322.9" font-size="10" text-anchor="middle" fill="#1a1a1a" stroke="#1a1a1a" stroke-width="0.3" >200</text>
<rect x="123.1" y="217.45" width="8.9" height="92.75" fill="#3F8DB0"/>
<rect x="123.1" y="206.2" width="8.9" height="11.25" fill="#E8919B"/>
<rect x="123.1" y="201.14" width="8.9" height="5.06" fill="#EEDA5C"/>
<line x1="150.55" y1="310.2" x2="150.55" y2="312.8" stroke="#262626" stroke-width="1"/>
<text x="150.55" y="322.9" font-size="10" text-anchor="middle" fill="#1a1a1a" stroke="#1a1a1a" stroke-width="0.3" >300</text>
<rect x="146.1" y="210.7" width="8.9" height="99.5" fill="#3F8DB0"/>
<rect x="146.1" y="200.57" width="8.9" height="10.12" fill="#E8919B"/>
<rect x="146.1" y="197.2" width="8.9" height="3.38" fill="#EEDA5C"/>
<line x1="173.55" y1="310.2" x2="173.55" y2="312.8" stroke="#262626" stroke-width="1"/>
<text x="173.55" y="322.9" font-size="10" text-anchor="middle" fill="#1a1a1a" stroke="#1a1a1a" stroke-width="0.3" >400</text>
<rect x="169.1" y="202.82" width="8.9" height="107.38" fill="#3F8DB0"/>
<rect x="169.1" y="198.77" width="8.9" height="4.05" fill="#E8919B"/>
<rect x="169.1" y="196.07" width="8.9" height="2.7" fill="#EEDA5C"/>
<line x1="196.55" y1="310.2" x2="196.55" y2="312.8" stroke="#262626" stroke-width="1"/>
<text x="196.55" y="322.9" font-size="10" text-anchor="middle" fill="#1a1a1a" stroke="#1a1a1a" stroke-width="0.3" >500</text>
<rect x="192.1" y="204.29" width="8.9" height="105.91" fill="#3F8DB0"/>
<rect x="192.1" y="200.01" width="8.9" height="4.27" fill="#E8919B"/>
<rect x="192.1" y="197.99" width="8.9" height="2.02" fill="#EEDA5C"/>
<rect x="192.1" y="195.51" width="8.9" height="2.48" fill="#D9D9D9"/>
<line x1="219.55" y1="310.2" x2="219.55" y2="312.8" stroke="#262626" stroke-width="1"/>
<text x="219.55" y="322.9" font-size="10" text-anchor="middle" fill="#1a1a1a" stroke="#1a1a1a" stroke-width="0.3" >600</text>
<rect x="215.1" y="206.65" width="8.9" height="103.55" fill="#3F8DB0"/>
<rect x="215.1" y="203.05" width="8.9" height="3.6" fill="#E8919B"/>
<rect x="215.1" y="201.93" width="8.9" height="1.12" fill="#EEDA5C"/>
<rect x="215.1" y="196.86" width="8.9" height="5.06" fill="#D9D9D9"/>
<path d="M57.35,236.35h2.4M58.55,236.35V240.85M57.35,240.85h2.4" stroke="#4a4a4a" stroke-width="0.65" fill="none"/>
<path d="M57.35,213.29h2.4M58.55,213.29V220.04M57.35,220.04h2.4" stroke="#4a4a4a" stroke-width="0.65" fill="none"/>
<path d="M57.35,201.65h2.4M58.55,201.65V202.65M57.35,202.65h2.4" stroke="#4a4a4a" stroke-width="0.65" fill="none"/>
<path d="M80.35,233.42h2.4M81.55,233.42V236.35M80.35,236.35h2.4" stroke="#4a4a4a" stroke-width="0.65" fill="none"/>
<path d="M80.35,214.3h2.4M81.55,214.3V218.8M80.35,218.8h2.4" stroke="#4a4a4a" stroke-width="0.65" fill="none"/>
<path d="M80.35,201.54h2.4M81.55,201.54V202.54M80.35,202.54h2.4" stroke="#4a4a4a" stroke-width="0.65" fill="none"/>
<path d="M103.35,220.82h2.4M104.55,220.82V227.57M103.35,227.57h2.4" stroke="#4a4a4a" stroke-width="0.65" fill="none"/>
<path d="M103.35,206.76h2.4M104.55,206.76V213.51M103.35,213.51h2.4" stroke="#4a4a4a" stroke-width="0.65" fill="none"/>
<path d="M103.35,201.14h2.4M104.55,201.14V202.26M103.35,202.26h2.4" stroke="#4a4a4a" stroke-width="0.65" fill="none"/>
<path d="M126.35,215.2h2.4M127.55,215.2V219.7M126.35,219.7h2.4" stroke="#4a4a4a" stroke-width="0.65" fill="none"/>
<path d="M126.35,201.7h2.4M127.55,201.7V210.7M126.35,210.7h2.4" stroke="#4a4a4a" stroke-width="0.65" fill="none"/>
<path d="M126.35,200.57h2.4M127.55,200.57V201.7M126.35,201.7h2.4" stroke="#4a4a4a" stroke-width="0.65" fill="none"/>
<path d="M149.35,209.01h2.4M150.55,209.01V212.39M149.35,212.39h2.4" stroke="#4a4a4a" stroke-width="0.65" fill="none"/>
<path d="M149.35,197.76h2.4M150.55,197.76V203.39M149.35,203.39h2.4" stroke="#4a4a4a" stroke-width="0.65" fill="none"/>
<path d="M149.35,196.07h2.4M150.55,196.07V198.32M149.35,198.32h2.4" stroke="#4a4a4a" stroke-width="0.65" fill="none"/>
<path d="M172.35,201.14h2.4M173.55,201.14V204.51M172.35,204.51h2.4" stroke="#4a4a4a" stroke-width="0.65" fill="none"/>
<path d="M172.35,197.09h2.4M173.55,197.09V200.46M172.35,200.46h2.4" stroke="#4a4a4a" stroke-width="0.65" fill="none"/>
<path d="M172.35,194.95h2.4M173.55,194.95V197.2M172.35,197.2h2.4" stroke="#4a4a4a" stroke-width="0.65" fill="none"/>
<path d="M195.35,202.6h2.4M196.55,202.6V205.97M195.35,205.97h2.4" stroke="#4a4a4a" stroke-width="0.65" fill="none"/>
<path d="M195.35,198.32h2.4M196.55,198.32V201.7M195.35,201.7h2.4" stroke="#4a4a4a" stroke-width="0.65" fill="none"/>
<path d="M195.35,196.3h2.4M196.55,196.3V199.68M195.35,199.68h2.4" stroke="#4a4a4a" stroke-width="0.65" fill="none"/>
<path d="M195.35,193.82h2.4M196.55,193.82V197.2M195.35,197.2h2.4" stroke="#4a4a4a" stroke-width="0.65" fill="none"/>
<path d="M218.35,204.4h2.4M219.55,204.4V208.9M218.35,208.9h2.4" stroke="#4a4a4a" stroke-width="0.65" fill="none"/>
<path d="M218.35,200.24h2.4M219.55,200.24V205.86M218.35,205.86h2.4" stroke="#4a4a4a" stroke-width="0.65" fill="none"/>
<path d="M218.35,200.8h2.4M219.55,200.8V203.05M218.35,203.05h2.4" stroke="#4a4a4a" stroke-width="0.65" fill="none"/>
<path d="M218.35,195.18h2.4M219.55,195.18V198.55M218.35,198.55h2.4" stroke="#4a4a4a" stroke-width="0.65" fill="none"/>
<path d="M47.2,175.2 L47.2,310.2 L231.3,310.2" fill="none" stroke="#262626" stroke-width="1"/>
<line x1="47.2" y1="175.2" x2="231.3" y2="175.2" stroke="#262626" stroke-width="1"/>
<line x1="231.3" y1="175.2" x2="231.3" y2="310.2" stroke="#262626" stroke-width="1"/>
<text x="138.65" y="334.7" font-size="10.15" text-anchor="middle" fill="#1a1a1a" stroke="#1a1a1a" stroke-width="0.3" >Cathodic current density (mA cm<tspan font-size="7" dy="-4.2">-2</tspan><tspan font-size="7" dy="6.9" dx="-5.6">geo</tspan><tspan dy="-2.7">)</tspan></text>
<text transform="translate(24.2,242.7) rotate(-90)" font-size="10" text-anchor="middle" fill="#1a1a1a" stroke="#1a1a1a" stroke-width="0.3">Faradaic efficiency (%)</text>
<text x="74.1" y="186.4" font-size="11.5" text-anchor="start" fill="#1A76A0" font-weight="bold" >NH<tspan font-size="8.5">3</tspan></text>
<text x="100.8" y="186.4" font-size="11.5" text-anchor="middle" fill="#1a1a1a" font-weight="bold" >|</text>
<text x="106.4" y="186.4" font-size="11.5" text-anchor="start" fill="#E7808E" font-weight="bold" >NH<tspan font-size="8.5">2</tspan>OH</text>
<text x="150.3" y="186.4" font-size="11.5" text-anchor="middle" fill="#1a1a1a" font-weight="bold" >|</text>
<text x="156.2" y="186.4" font-size="11.5" text-anchor="start" fill="#E5CB2A" font-weight="bold" >NO<tspan font-size="8.5">2</tspan><tspan font-size="7" dy="-4.5">-</tspan></text>
<text x="186.7" y="186.4" font-size="11.5" text-anchor="middle" fill="#1a1a1a" font-weight="bold" >|</text>
<text x="192.5" y="186.4" font-size="11.5" text-anchor="start" fill="#C4C4C4" font-weight="bold" >H<tspan font-size="8.5">2</tspan></text>
<line x1="273.6" y1="310.2" x2="276.2" y2="310.2" stroke="#262626" stroke-width="1"/>
<text x="270.1" y="313.8" font-size="10" text-anchor="end" fill="#1a1a1a" stroke="#1a1a1a" stroke-width="0.3" >0</text>
<line x1="273.6" y1="287.7" x2="276.2" y2="287.7" stroke="#262626" stroke-width="1"/>
<text x="270.1" y="291.3" font-size="10" text-anchor="end" fill="#1a1a1a" stroke="#1a1a1a" stroke-width="0.3" >20</text>
<line x1="273.6" y1="265.2" x2="276.2" y2="265.2" stroke="#262626" stroke-width="1"/>
<text x="270.1" y="268.8" font-size="10" text-anchor="end" fill="#1a1a1a" stroke="#1a1a1a" stroke-width="0.3" >40</text>
<line x1="273.6" y1="242.7" x2="276.2" y2="242.7" stroke="#262626" stroke-width="1"/>
<text x="270.1" y="246.3" font-size="10" text-anchor="end" fill="#1a1a1a" stroke="#1a1a1a" stroke-width="0.3" >60</text>
<line x1="273.6" y1="220.2" x2="276.2" y2="220.2" stroke="#262626" stroke-width="1"/>
<text x="270.1" y="223.8" font-size="10" text-anchor="end" fill="#1a1a1a" stroke="#1a1a1a" stroke-width="0.3" >80</text>
<line x1="273.6" y1="197.7" x2="276.2" y2="197.7" stroke="#262626" stroke-width="1"/>
<text x="270.1" y="201.3" font-size="10" text-anchor="end" fill="#1a1a1a" stroke="#1a1a1a" stroke-width="0.3" >100</text>
<line x1="273.6" y1="175.2" x2="276.2" y2="175.2" stroke="#262626" stroke-width="1"/>
<text x="270.1" y="178.8" font-size="10" text-anchor="end" fill="#1a1a1a" stroke="#1a1a1a" stroke-width="0.3" >120</text>
<line x1="273.6" y1="298.95" x2="275" y2="298.95" stroke="#262626" stroke-width="1"/>
<line x1="273.6" y1="276.45" x2="275" y2="276.45" stroke="#262626" stroke-width="1"/>
<line x1="273.6" y1="253.95" x2="275" y2="253.95" stroke="#262626" stroke-width="1"/>
<line x1="273.6" y1="231.45" x2="275" y2="231.45" stroke="#262626" stroke-width="1"/>
<line x1="273.6" y1="208.95" x2="275" y2="208.95" stroke="#262626" stroke-width="1"/>
<line x1="273.6" y1="186.45" x2="275" y2="186.45" stroke="#262626" stroke-width="1"/>
<line x1="285.2" y1="310.2" x2="285.2" y2="312.8" stroke="#262626" stroke-width="1"/>
<text x="285.2" y="322.9" font-size="10" text-anchor="middle" fill="#1a1a1a" stroke="#1a1a1a" stroke-width="0.3" >25</text>
<rect x="280.75" y="217.9" width="8.9" height="92.3" fill="#3F8DB0"/>
<rect x="280.75" y="202.82" width="8.9" height="15.07" fill="#E8919B"/>
<rect x="280.75" y="200.01" width="8.9" height="2.81" fill="#EEDA5C"/>
<line x1="308.23" y1="310.2" x2="308.23" y2="312.8" stroke="#262626" stroke-width="1"/>
<text x="308.23" y="322.9" font-size="10" text-anchor="middle" fill="#1a1a1a" stroke="#1a1a1a" stroke-width="0.3" >50</text>
<rect x="303.78" y="213.74" width="8.9" height="96.46" fill="#3F8DB0"/>
<rect x="303.78" y="201.7" width="8.9" height="12.04" fill="#E8919B"/>
<rect x="303.78" y="200.12" width="8.9" height="1.57" fill="#EEDA5C"/>
<line x1="331.26" y1="310.2" x2="331.26" y2="312.8" stroke="#262626" stroke-width="1"/>
<text x="331.26" y="322.9" font-size="10" text-anchor="middle" fill="#1a1a1a" stroke="#1a1a1a" stroke-width="0.3" >100</text>
<rect x="326.81" y="210.7" width="8.9" height="99.5" fill="#3F8DB0"/>
<rect x="326.81" y="205.52" width="8.9" height="5.18" fill="#E8919B"/>
<rect x="326.81" y="204.4" width="8.9" height="1.12" fill="#EEDA5C"/>
<rect x="326.81" y="201.7" width="8.9" height="2.7" fill="#D9D9D9"/>
<line x1="354.29" y1="310.2" x2="354.29" y2="312.8" stroke="#262626" stroke-width="1"/>
<text x="354.29" y="322.9" font-size="10" text-anchor="middle" fill="#1a1a1a" stroke="#1a1a1a" stroke-width="0.3" >200</text>
<rect x="349.84" y="219.7" width="8.9" height="90.5" fill="#3F8DB0"/>
<rect x="349.84" y="215.65" width="8.9" height="4.05" fill="#E8919B"/>
<rect x="349.84" y="214.64" width="8.9" height="1.01" fill="#EEDA5C"/>
<rect x="349.84" y="201.81" width="8.9" height="12.82" fill="#D9D9D9"/>
<line x1="377.32" y1="310.2" x2="377.32" y2="312.8" stroke="#262626" stroke-width="1"/>
<text x="377.32" y="322.9" font-size="10" text-anchor="middle" fill="#1a1a1a" stroke="#1a1a1a" stroke-width="0.3" >300</text>
<rect x="372.87" y="227.46" width="8.9" height="82.74" fill="#3F8DB0"/>
<rect x="372.87" y="225.1" width="8.9" height="2.36" fill="#E8919B"/>
<rect x="372.87" y="223.97" width="8.9" height="1.12" fill="#EEDA5C"/>
<rect x="372.87" y="201.59" width="8.9" height="22.39" fill="#D9D9D9"/>
<line x1="400.35" y1="310.2" x2="400.35" y2="312.8" stroke="#262626" stroke-width="1"/>
<text x="400.35" y="322.9" font-size="10" text-anchor="middle" fill="#1a1a1a" stroke="#1a1a1a" stroke-width="0.3" >400</text>
<rect x="395.9" y="231.4" width="8.9" height="78.8" fill="#3F8DB0"/>
<rect x="395.9" y="229.38" width="8.9" height="2.02" fill="#E8919B"/>
<rect x="395.9" y="228.59" width="8.9" height="0.79" fill="#EEDA5C"/>
<rect x="395.9" y="198.21" width="8.9" height="30.38" fill="#D9D9D9"/>
<line x1="423.38" y1="310.2" x2="423.38" y2="312.8" stroke="#262626" stroke-width="1"/>
<text x="423.38" y="322.9" font-size="10" text-anchor="middle" fill="#1a1a1a" stroke="#1a1a1a" stroke-width="0.3" >500</text>
<rect x="418.93" y="237.02" width="8.9" height="73.18" fill="#3F8DB0"/>
<rect x="418.93" y="234.66" width="8.9" height="2.36" fill="#E8919B"/>
<rect x="418.93" y="233.88" width="8.9" height="0.79" fill="#EEDA5C"/>
<rect x="418.93" y="199.56" width="8.9" height="34.31" fill="#D9D9D9"/>
<line x1="446.41" y1="310.2" x2="446.41" y2="312.8" stroke="#262626" stroke-width="1"/>
<text x="446.41" y="322.9" font-size="10" text-anchor="middle" fill="#1a1a1a" stroke="#1a1a1a" stroke-width="0.3" >600</text>
<rect x="441.96" y="241.86" width="8.9" height="68.34" fill="#3F8DB0"/>
<rect x="441.96" y="239.84" width="8.9" height="2.03" fill="#E8919B"/>
<rect x="441.96" y="239.05" width="8.9" height="0.79" fill="#EEDA5C"/>
<rect x="441.96" y="200.57" width="8.9" height="38.48" fill="#D9D9D9"/>
<path d="M284,217.34h2.4M285.2,217.34V218.46M284,218.46h2.4" stroke="#4a4a4a" stroke-width="0.65" fill="none"/>
<path d="M284,199.45h2.4M285.2,199.45V206.2M284,206.2h2.4" stroke="#4a4a4a" stroke-width="0.65" fill="none"/>
<path d="M284,198.89h2.4M285.2,198.89V201.14M284,201.14h2.4" stroke="#4a4a4a" stroke-width="0.65" fill="none"/>
<path d="M307.03,211.49h2.4M308.23,211.49V215.99M307.03,215.99h2.4" stroke="#4a4a4a" stroke-width="0.65" fill="none"/>
<path d="M307.03,198.32h2.4M308.23,198.32V205.07M307.03,205.07h2.4" stroke="#4a4a4a" stroke-width="0.65" fill="none"/>
<path d="M307.03,199.22h2.4M308.23,199.22V201.03M307.03,201.03h2.4" stroke="#4a4a4a" stroke-width="0.65" fill="none"/>
<path d="M330.06,208.45h2.4M331.26,208.45V212.95M330.06,212.95h2.4" stroke="#4a4a4a" stroke-width="0.65" fill="none"/>
<path d="M330.06,204.4h2.4M331.26,204.4V206.65M330.06,206.65h2.4" stroke="#4a4a4a" stroke-width="0.65" fill="none"/>
<path d="M330.06,203.84h2.4M331.26,203.84V204.96M330.06,204.96h2.4" stroke="#4a4a4a" stroke-width="0.65" fill="none"/>
<path d="M330.06,199.45h2.4M331.26,199.45V203.95M330.06,203.95h2.4" stroke="#4a4a4a" stroke-width="0.65" fill="none"/>
<path d="M353.09,218.57h2.4M354.29,218.57V220.82M353.09,220.82h2.4" stroke="#4a4a4a" stroke-width="0.65" fill="none"/>
<path d="M353.09,214.52h2.4M354.29,214.52V216.77M353.09,216.77h2.4" stroke="#4a4a4a" stroke-width="0.65" fill="none"/>
<path d="M353.09,214.07h2.4M354.29,214.07V215.2M353.09,215.2h2.4" stroke="#4a4a4a" stroke-width="0.65" fill="none"/>
<path d="M353.09,199h2.4M354.29,199V204.62M353.09,204.62h2.4" stroke="#4a4a4a" stroke-width="0.65" fill="none"/>
<path d="M376.12,226.34h2.4M377.32,226.34V228.59M376.12,228.59h2.4" stroke="#4a4a4a" stroke-width="0.65" fill="none"/>
<path d="M376.12,224.54h2.4M377.32,224.54V225.66M376.12,225.66h2.4" stroke="#4a4a4a" stroke-width="0.65" fill="none"/>
<path d="M376.12,223.41h2.4M377.32,223.41V224.54M376.12,224.54h2.4" stroke="#4a4a4a" stroke-width="0.65" fill="none"/>
<path d="M376.12,197.65h2.4M377.32,197.65V205.52M376.12,205.52h2.4" stroke="#4a4a4a" stroke-width="0.65" fill="none"/>
<path d="M399.15,229.71h2.4M400.35,229.71V233.09M399.15,233.09h2.4" stroke="#4a4a4a" stroke-width="0.65" fill="none"/>
<path d="M399.15,228.81h2.4M400.35,228.81V229.94M399.15,229.94h2.4" stroke="#4a4a4a" stroke-width="0.65" fill="none"/>
<path d="M399.15,228.02h2.4M400.35,228.02V229.15M399.15,229.15h2.4" stroke="#4a4a4a" stroke-width="0.65" fill="none"/>
<path d="M399.15,194.84h2.4M400.35,194.84V201.59M399.15,201.59h2.4" stroke="#4a4a4a" stroke-width="0.65" fill="none"/>
<path d="M422.18,235.9h2.4M423.38,235.9V238.15M422.18,238.15h2.4" stroke="#4a4a4a" stroke-width="0.65" fill="none"/>
<path d="M422.18,234.1h2.4M423.38,234.1V235.22M422.18,235.22h2.4" stroke="#4a4a4a" stroke-width="0.65" fill="none"/>
<path d="M422.18,233.31h2.4M423.38,233.31V234.44M422.18,234.44h2.4" stroke="#4a4a4a" stroke-width="0.65" fill="none"/>
<path d="M422.18,196.19h2.4M423.38,196.19V202.94M422.18,202.94h2.4" stroke="#4a4a4a" stroke-width="0.65" fill="none"/>
<path d="M445.21,240.18h2.4M446.41,240.18V243.55M445.21,243.55h2.4" stroke="#4a4a4a" stroke-width="0.65" fill="none"/>
<path d="M445.21,239.27h2.4M446.41,239.27V240.4M445.21,240.4h2.4" stroke="#4a4a4a" stroke-width="0.65" fill="none"/>
<path d="M445.21,238.49h2.4M446.41,238.49V239.61M445.21,239.61h2.4" stroke="#4a4a4a" stroke-width="0.65" fill="none"/>
<path d="M445.21,197.2h2.4M446.41,197.2V203.95M445.21,203.95h2.4" stroke="#4a4a4a" stroke-width="0.65" fill="none"/>
<path d="M273.6,175.2 L273.6,310.2 L457.6,310.2" fill="none" stroke="#262626" stroke-width="1"/>
<line x1="273.6" y1="175.2" x2="457.6" y2="175.2" stroke="#262626" stroke-width="1"/>
<line x1="457.6" y1="175.2" x2="457.6" y2="310.2" stroke="#262626" stroke-width="1"/>
<text x="365" y="334.7" font-size="10.15" text-anchor="middle" fill="#1a1a1a" stroke="#1a1a1a" stroke-width="0.3" >Cathodic current density (mA cm<tspan font-size="7" dy="-4.2">-2</tspan><tspan font-size="7" dy="6.9" dx="-5.6">geo</tspan><tspan dy="-2.7">)</tspan></text>
<text transform="translate(250.6,242.7) rotate(-90)" font-size="10" text-anchor="middle" fill="#1a1a1a" stroke="#1a1a1a" stroke-width="0.3">Faradaic efficiency (%)</text>
<text x="299.6" y="186.4" font-size="11.5" text-anchor="start" fill="#1A76A0" font-weight="bold" >NH<tspan font-size="8.5">3</tspan></text>
<text x="326.3" y="186.4" font-size="11.5" text-anchor="middle" fill="#1a1a1a" font-weight="bold" >|</text>
<text x="331.9" y="186.4" font-size="11.5" text-anchor="start" fill="#E7808E" font-weight="bold" >NH<tspan font-size="8.5">2</tspan>OH</text>
<text x="375.8" y="186.4" font-size="11.5" text-anchor="middle" fill="#1a1a1a" font-weight="bold" >|</text>
<text x="381.7" y="186.4" font-size="11.5" text-anchor="start" fill="#E5CB2A" font-weight="bold" >NO<tspan font-size="8.5">2</tspan><tspan font-size="7" dy="-4.5">-</tspan></text>
<text x="412.2" y="186.4" font-size="11.5" text-anchor="middle" fill="#1a1a1a" font-weight="bold" >|</text>
<text x="418" y="186.4" font-size="11.5" text-anchor="start" fill="#C4C4C4" font-weight="bold" >H<tspan font-size="8.5">2</tspan></text>
<line x1="496.2" y1="310.2" x2="498.8" y2="310.2" stroke="#262626" stroke-width="1"/>
<text x="492.7" y="313.8" font-size="10" text-anchor="end" fill="#1a1a1a" stroke="#1a1a1a" stroke-width="0.3" >0</text>
<line x1="496.2" y1="287.7" x2="498.8" y2="287.7" stroke="#262626" stroke-width="1"/>
<text x="492.7" y="291.3" font-size="10" text-anchor="end" fill="#1a1a1a" stroke="#1a1a1a" stroke-width="0.3" >20</text>
<line x1="496.2" y1="265.2" x2="498.8" y2="265.2" stroke="#262626" stroke-width="1"/>
<text x="492.7" y="268.8" font-size="10" text-anchor="end" fill="#1a1a1a" stroke="#1a1a1a" stroke-width="0.3" >40</text>
<line x1="496.2" y1="242.7" x2="498.8" y2="242.7" stroke="#262626" stroke-width="1"/>
<text x="492.7" y="246.3" font-size="10" text-anchor="end" fill="#1a1a1a" stroke="#1a1a1a" stroke-width="0.3" >60</text>
<line x1="496.2" y1="220.2" x2="498.8" y2="220.2" stroke="#262626" stroke-width="1"/>
<text x="492.7" y="223.8" font-size="10" text-anchor="end" fill="#1a1a1a" stroke="#1a1a1a" stroke-width="0.3" >80</text>
<line x1="496.2" y1="197.7" x2="498.8" y2="197.7" stroke="#262626" stroke-width="1"/>
<text x="492.7" y="201.3" font-size="10" text-anchor="end" fill="#1a1a1a" stroke="#1a1a1a" stroke-width="0.3" >100</text>
<line x1="496.2" y1="175.2" x2="498.8" y2="175.2" stroke="#262626" stroke-width="1"/>
<text x="492.7" y="178.8" font-size="10" text-anchor="end" fill="#1a1a1a" stroke="#1a1a1a" stroke-width="0.3" >120</text>
<line x1="496.2" y1="298.95" x2="497.6" y2="298.95" stroke="#262626" stroke-width="1"/>
<line x1="496.2" y1="276.45" x2="497.6" y2="276.45" stroke="#262626" stroke-width="1"/>
<line x1="496.2" y1="253.95" x2="497.6" y2="253.95" stroke="#262626" stroke-width="1"/>
<line x1="496.2" y1="231.45" x2="497.6" y2="231.45" stroke="#262626" stroke-width="1"/>
<line x1="496.2" y1="208.95" x2="497.6" y2="208.95" stroke="#262626" stroke-width="1"/>
<line x1="496.2" y1="186.45" x2="497.6" y2="186.45" stroke="#262626" stroke-width="1"/>
<line x1="507.5" y1="310.2" x2="507.5" y2="312.8" stroke="#262626" stroke-width="1"/>
<text x="507.5" y="322.9" font-size="10" text-anchor="middle" fill="#1a1a1a" stroke="#1a1a1a" stroke-width="0.3" >25</text>
<rect x="503.05" y="225.55" width="8.9" height="84.65" fill="#3F8DB0"/>
<rect x="503.05" y="199.9" width="8.9" height="25.65" fill="#D9D9D9"/>
<line x1="530.5" y1="310.2" x2="530.5" y2="312.8" stroke="#262626" stroke-width="1"/>
<text x="530.5" y="322.9" font-size="10" text-anchor="middle" fill="#1a1a1a" stroke="#1a1a1a" stroke-width="0.3" >50</text>
<rect x="526.05" y="231.51" width="8.9" height="78.69" fill="#3F8DB0"/>
<rect x="526.05" y="201.7" width="8.9" height="29.81" fill="#D9D9D9"/>
<line x1="553.5" y1="310.2" x2="553.5" y2="312.8" stroke="#262626" stroke-width="1"/>
<text x="553.5" y="322.9" font-size="10" text-anchor="middle" fill="#1a1a1a" stroke="#1a1a1a" stroke-width="0.3" >100</text>
<rect x="549.05" y="240.74" width="8.9" height="69.46" fill="#3F8DB0"/>
<rect x="549.05" y="199.45" width="8.9" height="41.29" fill="#D9D9D9"/>
<line x1="576.5" y1="310.2" x2="576.5" y2="312.8" stroke="#262626" stroke-width="1"/>
<text x="576.5" y="322.9" font-size="10" text-anchor="middle" fill="#1a1a1a" stroke="#1a1a1a" stroke-width="0.3" >200</text>
<rect x="572.05" y="281.8" width="8.9" height="28.4" fill="#3F8DB0"/>
<rect x="572.05" y="197.88" width="8.9" height="83.93" fill="#D9D9D9"/>
<line x1="599.5" y1="310.2" x2="599.5" y2="312.8" stroke="#262626" stroke-width="1"/>
<text x="599.5" y="322.9" font-size="10" text-anchor="middle" fill="#1a1a1a" stroke="#1a1a1a" stroke-width="0.3" >300</text>
<rect x="595.05" y="297.55" width="8.9" height="12.65" fill="#3F8DB0"/>
<rect x="595.05" y="197.88" width="8.9" height="99.68" fill="#D9D9D9"/>
<line x1="622.5" y1="310.2" x2="622.5" y2="312.8" stroke="#262626" stroke-width="1"/>
<text x="622.5" y="322.9" font-size="10" text-anchor="middle" fill="#1a1a1a" stroke="#1a1a1a" stroke-width="0.3" >400</text>
<rect x="618.05" y="299.91" width="8.9" height="10.29" fill="#3F8DB0"/>
<rect x="618.05" y="199.45" width="8.9" height="100.46" fill="#D9D9D9"/>
<line x1="645.5" y1="310.2" x2="645.5" y2="312.8" stroke="#262626" stroke-width="1"/>
<text x="645.5" y="322.9" font-size="10" text-anchor="middle" fill="#1a1a1a" stroke="#1a1a1a" stroke-width="0.3" >500</text>
<rect x="641.05" y="299.91" width="8.9" height="10.29" fill="#3F8DB0"/>
<rect x="641.05" y="198.55" width="8.9" height="101.36" fill="#D9D9D9"/>
<line x1="668.5" y1="310.2" x2="668.5" y2="312.8" stroke="#262626" stroke-width="1"/>
<text x="668.5" y="322.9" font-size="10" text-anchor="middle" fill="#1a1a1a" stroke="#1a1a1a" stroke-width="0.3" >600</text>
<rect x="664.05" y="300.36" width="8.9" height="9.84" fill="#3F8DB0"/>
<rect x="664.05" y="198.32" width="8.9" height="102.04" fill="#D9D9D9"/>
<path d="M506.3,223.53h2.4M507.5,223.53V227.58M506.3,227.58h2.4" stroke="#4a4a4a" stroke-width="0.65" fill="none"/>
<path d="M506.3,197.09h2.4M507.5,197.09V202.71M506.3,202.71h2.4" stroke="#4a4a4a" stroke-width="0.65" fill="none"/>
<path d="M529.3,230.05h2.4M530.5,230.05V232.97M529.3,232.97h2.4" stroke="#4a4a4a" stroke-width="0.65" fill="none"/>
<path d="M529.3,200.24h2.4M530.5,200.24V203.16M529.3,203.16h2.4" stroke="#4a4a4a" stroke-width="0.65" fill="none"/>
<path d="M552.3,240.24h2.4M553.5,240.24V241.24M552.3,241.24h2.4" stroke="#4a4a4a" stroke-width="0.65" fill="none"/>
<path d="M552.3,196.64h2.4M553.5,196.64V202.26M552.3,202.26h2.4" stroke="#4a4a4a" stroke-width="0.65" fill="none"/>
<path d="M575.3,281.3h2.4M576.5,281.3V282.3M575.3,282.3h2.4" stroke="#4a4a4a" stroke-width="0.65" fill="none"/>
<path d="M575.3,195.96h2.4M576.5,195.96V199.79M575.3,199.79h2.4" stroke="#4a4a4a" stroke-width="0.65" fill="none"/>
<path d="M598.3,297.05h2.4M599.5,297.05V298.05M598.3,298.05h2.4" stroke="#4a4a4a" stroke-width="0.65" fill="none"/>
<path d="M598.3,195.06h2.4M599.5,195.06V200.69M598.3,200.69h2.4" stroke="#4a4a4a" stroke-width="0.65" fill="none"/>
<path d="M621.3,299.41h2.4M622.5,299.41V300.41M621.3,300.41h2.4" stroke="#4a4a4a" stroke-width="0.65" fill="none"/>
<path d="M621.3,196.07h2.4M622.5,196.07V202.82M621.3,202.82h2.4" stroke="#4a4a4a" stroke-width="0.65" fill="none"/>
<path d="M644.3,299.41h2.4M645.5,299.41V300.41M644.3,300.41h2.4" stroke="#4a4a4a" stroke-width="0.65" fill="none"/>
<path d="M644.3,196.3h2.4M645.5,196.3V200.8M644.3,200.8h2.4" stroke="#4a4a4a" stroke-width="0.65" fill="none"/>
<path d="M667.3,299.86h2.4M668.5,299.86V300.86M667.3,300.86h2.4" stroke="#4a4a4a" stroke-width="0.65" fill="none"/>
<path d="M667.3,195.51h2.4M668.5,195.51V201.14M667.3,201.14h2.4" stroke="#4a4a4a" stroke-width="0.65" fill="none"/>
<path d="M496.2,175.2 L496.2,310.2 L678.5,310.2" fill="none" stroke="#262626" stroke-width="1"/>
<line x1="496.2" y1="175.2" x2="678.5" y2="175.2" stroke="#262626" stroke-width="1"/>
<line x1="678.5" y1="175.2" x2="678.5" y2="310.2" stroke="#262626" stroke-width="1"/>
<text x="586.75" y="334.7" font-size="10.15" text-anchor="middle" fill="#1a1a1a" stroke="#1a1a1a" stroke-width="0.3" >Cathodic current density (mA cm<tspan font-size="7" dy="-4.2">-2</tspan><tspan font-size="7" dy="6.9" dx="-5.6">geo</tspan><tspan dy="-2.7">)</tspan></text>
<text transform="translate(473.2,242.7) rotate(-90)" font-size="10" text-anchor="middle" fill="#1a1a1a" stroke="#1a1a1a" stroke-width="0.3">Faradaic efficiency (%)</text>
<text x="527.6" y="186.4" font-size="11.5" text-anchor="start" fill="#1A76A0" font-weight="bold" >NH<tspan font-size="8.5">3</tspan></text>
<text x="554.3" y="186.4" font-size="11.5" text-anchor="middle" fill="#1a1a1a" font-weight="bold" >|</text>
<text x="559.9" y="186.4" font-size="11.5" text-anchor="start" fill="#E7808E" font-weight="bold" >NH<tspan font-size="8.5">2</tspan>OH</text>
<text x="603.8" y="186.4" font-size="11.5" text-anchor="middle" fill="#1a1a1a" font-weight="bold" >|</text>
<text x="609.7" y="186.4" font-size="11.5" text-anchor="start" fill="#E5CB2A" font-weight="bold" >NO<tspan font-size="8.5">2</tspan><tspan font-size="7" dy="-4.5">-</tspan></text>
<text x="640.2" y="186.4" font-size="11.5" text-anchor="middle" fill="#1a1a1a" font-weight="bold" >|</text>
<text x="646" y="186.4" font-size="11.5" text-anchor="start" fill="#C4C4C4" font-weight="bold" >H<tspan font-size="8.5">2</tspan></text>
<path d="M46.6,345 L46.6,481.1 L231.5,481.1" fill="none" stroke="#262626" stroke-width="1"/>
<line x1="46.6" y1="345" x2="231.5" y2="345" stroke="#262626" stroke-width="1"/>
<line x1="231.5" y1="345" x2="231.5" y2="481.1" stroke="#262626" stroke-width="1"/>
<line x1="62.01" y1="481.1" x2="62.01" y2="483.7" stroke="#262626" stroke-width="1"/>
<text x="62.01" y="493" font-size="10" text-anchor="middle" fill="#1a1a1a" stroke="#1a1a1a" stroke-width="0.3" >−0.6</text>
<line x1="92.82" y1="481.1" x2="92.82" y2="483.7" stroke="#262626" stroke-width="1"/>
<text x="92.82" y="493" font-size="10" text-anchor="middle" fill="#1a1a1a" stroke="#1a1a1a" stroke-width="0.3" >−0.4</text>
<line x1="123.64" y1="481.1" x2="123.64" y2="483.7" stroke="#262626" stroke-width="1"/>
<text x="123.64" y="493" font-size="10" text-anchor="middle" fill="#1a1a1a" stroke="#1a1a1a" stroke-width="0.3" >−0.2</text>
<line x1="154.46" y1="481.1" x2="154.46" y2="483.7" stroke="#262626" stroke-width="1"/>
<text x="154.46" y="493" font-size="10" text-anchor="middle" fill="#1a1a1a" stroke="#1a1a1a" stroke-width="0.3" >0.0</text>
<line x1="185.28" y1="481.1" x2="185.28" y2="483.7" stroke="#262626" stroke-width="1"/>
<text x="185.28" y="493" font-size="10" text-anchor="middle" fill="#1a1a1a" stroke="#1a1a1a" stroke-width="0.3" >0.2</text>
<line x1="216.09" y1="481.1" x2="216.09" y2="483.7" stroke="#262626" stroke-width="1"/>
<text x="216.09" y="493" font-size="10" text-anchor="middle" fill="#1a1a1a" stroke="#1a1a1a" stroke-width="0.3" >0.4</text>
<line x1="77.42" y1="481.1" x2="77.42" y2="482.5" stroke="#262626" stroke-width="1"/>
<line x1="108.23" y1="481.1" x2="108.23" y2="482.5" stroke="#262626" stroke-width="1"/>
<line x1="139.05" y1="481.1" x2="139.05" y2="482.5" stroke="#262626" stroke-width="1"/>
<line x1="169.87" y1="481.1" x2="169.87" y2="482.5" stroke="#262626" stroke-width="1"/>
<line x1="200.68" y1="481.1" x2="200.68" y2="482.5" stroke="#262626" stroke-width="1"/>
<line x1="46.6" y1="361.3" x2="49.2" y2="361.3" stroke="#262626" stroke-width="1"/>
<text x="43.5" y="364.9" font-size="10" text-anchor="end" fill="#1a1a1a" stroke="#1a1a1a" stroke-width="0.3" >0</text>
<line x1="46.6" y1="397.8" x2="49.2" y2="397.8" stroke="#262626" stroke-width="1"/>
<text x="43.5" y="401.4" font-size="10" text-anchor="end" fill="#1a1a1a" stroke="#1a1a1a" stroke-width="0.3" >−200</text>
<line x1="46.6" y1="434.3" x2="49.2" y2="434.3" stroke="#262626" stroke-width="1"/>
<text x="43.5" y="437.9" font-size="10" text-anchor="end" fill="#1a1a1a" stroke="#1a1a1a" stroke-width="0.3" >−400</text>
<line x1="46.6" y1="470.8" x2="49.2" y2="470.8" stroke="#262626" stroke-width="1"/>
<text x="43.5" y="474.4" font-size="10" text-anchor="end" fill="#1a1a1a" stroke="#1a1a1a" stroke-width="0.3" >−600</text>
<line x1="46.6" y1="379.55" x2="48" y2="379.55" stroke="#262626" stroke-width="1"/>
<line x1="46.6" y1="416.05" x2="48" y2="416.05" stroke="#262626" stroke-width="1"/>
<line x1="46.6" y1="452.55" x2="48" y2="452.55" stroke="#262626" stroke-width="1"/>
<text x="138.2" y="504" font-size="10.15" text-anchor="middle" fill="#1a1a1a" stroke="#1a1a1a" stroke-width="0.3" >Potential (V vs. RHE)</text>
<text transform="translate(16.9,491.2) rotate(-90)" font-size="10" text-anchor="start" fill="#1a1a1a" stroke="#1a1a1a" stroke-width="0.3">NH<tspan font-size="8.5">3</tspan><tspan dx="4">Current density (mA cm</tspan><tspan font-size="7" dy="-4.2">-2</tspan><tspan font-size="7" dy="6.9" dx="-5.6">geo</tspan><tspan dy="-2.7">)</tspan></text>
<text x="84.3" y="356.2" font-size="11.5" text-anchor="start" fill="#E5CB2A" font-weight="bold" >WO<tspan font-size="8.5">3-</tspan><tspan font-size="8.5" font-style="italic">x</tspan></text>
<text x="121.7" y="356.2" font-size="11.5" text-anchor="middle" fill="#1a1a1a" font-weight="bold" >|</text>
<text x="127.2" y="356.2" font-size="11.5" text-anchor="start" fill="#E7808E" font-weight="bold" >Ru</text>
<text x="148" y="356.2" font-size="11.5" text-anchor="middle" fill="#1a1a1a" font-weight="bold" >|</text>
<text x="153.8" y="356.2" font-size="11.5" text-anchor="start" fill="#1A76A0" font-weight="bold" >Ru/WO<tspan font-size="8.5">3-</tspan><tspan font-size="8.5" font-style="italic">x</tspan></text>
<polyline points="73.6,370 75.7,367.1 77.1,368.3 78.8,370.9 86.7,372.7 100.2,367.4 115.3,364.4" fill="none" stroke="#E5CB2A" stroke-width="1.8" stroke-linejoin="round"/>
<path d="M128,427.4 C128.52,426.13 130.25,422.42 131.1,419.8 C131.95,417.18 132.13,414.75 133.1,411.7 C134.07,408.65 135.42,405.02 136.9,401.5 C138.38,397.98 139.78,394.62 142,390.6 C144.22,386.58 147.57,381 150.2,377.4 C152.83,373.8 155.18,371.03 157.8,369 C160.42,366.97 164.55,365.83 165.9,365.2" fill="none" stroke="#E7808E" stroke-width="1.8"/>
<path d="M152.2,462.2 C153.22,459.7 156.27,452.45 158.3,447.2 C160.33,441.95 162.58,436.97 164.4,430.7 C166.22,424.43 167.63,416.2 169.2,409.6 C170.77,403 171.98,396.88 173.8,391.1 C175.62,385.32 178.12,378.87 180.1,374.9 C182.08,370.93 184,369.12 185.7,367.3 C187.4,365.48 189.53,364.55 190.3,364" fill="none" stroke="#1A76A0" stroke-width="1.8"/>
<circle cx="73.6" cy="370" r="3.9" fill="url(#gy)"/>
<circle cx="75.7" cy="367.1" r="3.9" fill="url(#gy)"/>
<circle cx="77.1" cy="368.3" r="3.9" fill="url(#gy)"/>
<circle cx="78.8" cy="370.9" r="3.9" fill="url(#gy)"/>
<circle cx="86.7" cy="372.7" r="3.9" fill="url(#gy)"/>
<circle cx="100.2" cy="367.4" r="3.9" fill="url(#gy)"/>
<circle cx="115.3" cy="364.4" r="3.9" fill="url(#gy)"/>
<circle cx="128" cy="427.4" r="3.9" fill="url(#gp)"/>
<circle cx="131.1" cy="419.8" r="3.9" fill="url(#gp)"/>
<circle cx="133.1" cy="411.7" r="3.9" fill="url(#gp)"/>
<circle cx="136.9" cy="401.5" r="3.9" fill="url(#gp)"/>
<circle cx="142" cy="390.6" r="3.9" fill="url(#gp)"/>
<circle cx="150.2" cy="377.4" r="3.9" fill="url(#gp)"/>
<circle cx="157.8" cy="369" r="3.9" fill="url(#gp)"/>
<circle cx="165.9" cy="365.2" r="3.9" fill="url(#gp)"/>
<circle cx="152.2" cy="462.2" r="3.9" fill="url(#gb)"/>
<circle cx="158.3" cy="447.2" r="3.9" fill="url(#gb)"/>
<circle cx="164.4" cy="430.7" r="3.9" fill="url(#gb)"/>
<circle cx="169.2" cy="409.6" r="3.9" fill="url(#gb)"/>
<circle cx="173.8" cy="391.1" r="3.9" fill="url(#gb)"/>
<circle cx="180.1" cy="374.9" r="3.9" fill="url(#gb)"/>
<circle cx="185.7" cy="367.3" r="3.9" fill="url(#gb)"/>
<circle cx="190.3" cy="364" r="3.9" fill="url(#gb)"/>
<line x1="273.2" y1="345.4" x2="649.7" y2="345.4" stroke="#262626" stroke-width="1"/>
<line x1="273.2" y1="480.2" x2="649.7" y2="480.2" stroke="#262626" stroke-width="1"/>
<line x1="649.7" y1="345.4" x2="649.7" y2="480.2" stroke="#262626" stroke-width="1"/>
<line x1="273.2" y1="345.4" x2="273.2" y2="480.2" stroke="#0F32FF" stroke-width="1"/>
<line x1="273" y1="480.2" x2="273" y2="482.8" stroke="#262626" stroke-width="1"/>
<text x="273" y="493.3" font-size="10" text-anchor="middle" fill="#1a1a1a" stroke="#1a1a1a" stroke-width="0.3" >0</text>
<line x1="333.75" y1="480.2" x2="333.75" y2="482.8" stroke="#262626" stroke-width="1"/>
<text x="333.75" y="493.3" font-size="10" text-anchor="middle" fill="#1a1a1a" stroke="#1a1a1a" stroke-width="0.3" >5</text>
<line x1="394.5" y1="480.2" x2="394.5" y2="482.8" stroke="#262626" stroke-width="1"/>
<text x="394.5" y="493.3" font-size="10" text-anchor="middle" fill="#1a1a1a" stroke="#1a1a1a" stroke-width="0.3" >10</text>
<line x1="455.25" y1="480.2" x2="455.25" y2="482.8" stroke="#262626" stroke-width="1"/>
<text x="455.25" y="493.3" font-size="10" text-anchor="middle" fill="#1a1a1a" stroke="#1a1a1a" stroke-width="0.3" >15</text>
<line x1="516" y1="480.2" x2="516" y2="482.8" stroke="#262626" stroke-width="1"/>
<text x="516" y="493.3" font-size="10" text-anchor="middle" fill="#1a1a1a" stroke="#1a1a1a" stroke-width="0.3" >20</text>
<line x1="576.75" y1="480.2" x2="576.75" y2="482.8" stroke="#262626" stroke-width="1"/>
<text x="576.75" y="493.3" font-size="10" text-anchor="middle" fill="#1a1a1a" stroke="#1a1a1a" stroke-width="0.3" >25</text>
<line x1="637.5" y1="480.2" x2="637.5" y2="482.8" stroke="#262626" stroke-width="1"/>
<text x="637.5" y="493.3" font-size="10" text-anchor="middle" fill="#1a1a1a" stroke="#1a1a1a" stroke-width="0.3" >30</text>
<line x1="303.38" y1="480.2" x2="303.38" y2="481.6" stroke="#262626" stroke-width="1"/>
<line x1="364.12" y1="480.2" x2="364.12" y2="481.6" stroke="#262626" stroke-width="1"/>
<line x1="424.88" y1="480.2" x2="424.88" y2="481.6" stroke="#262626" stroke-width="1"/>
<line x1="485.62" y1="480.2" x2="485.62" y2="481.6" stroke="#262626" stroke-width="1"/>
<line x1="546.38" y1="480.2" x2="546.38" y2="481.6" stroke="#262626" stroke-width="1"/>
<line x1="607.12" y1="480.2" x2="607.12" y2="481.6" stroke="#262626" stroke-width="1"/>
<text x="461.5" y="503.8" font-size="10" text-anchor="middle" fill="#1a1a1a" stroke="#1a1a1a" stroke-width="0.3" >Time (h)</text>
<line x1="273.2" y1="479.98" x2="275.8" y2="479.98" stroke="#0F32FF" stroke-width="1"/>
<text x="270.2" y="483.58" font-size="10" text-anchor="end" fill="#0F32FF" stroke="#0F32FF" stroke-width="0.3" >−0.4</text>
<line x1="273.2" y1="457.54" x2="275.8" y2="457.54" stroke="#0F32FF" stroke-width="1"/>
<text x="270.2" y="461.14" font-size="10" text-anchor="end" fill="#0F32FF" stroke="#0F32FF" stroke-width="0.3" >−0.2</text>
<line x1="273.2" y1="435.1" x2="275.8" y2="435.1" stroke="#0F32FF" stroke-width="1"/>
<text x="270.2" y="438.7" font-size="10" text-anchor="end" fill="#0F32FF" stroke="#0F32FF" stroke-width="0.3" >0.0</text>
<line x1="273.2" y1="412.66" x2="275.8" y2="412.66" stroke="#0F32FF" stroke-width="1"/>
<text x="270.2" y="416.26" font-size="10" text-anchor="end" fill="#0F32FF" stroke="#0F32FF" stroke-width="0.3" >0.2</text>
<line x1="273.2" y1="390.22" x2="275.8" y2="390.22" stroke="#0F32FF" stroke-width="1"/>
<text x="270.2" y="393.82" font-size="10" text-anchor="end" fill="#0F32FF" stroke="#0F32FF" stroke-width="0.3" >0.4</text>
<line x1="273.2" y1="367.78" x2="275.8" y2="367.78" stroke="#0F32FF" stroke-width="1"/>
<text x="270.2" y="371.38" font-size="10" text-anchor="end" fill="#0F32FF" stroke="#0F32FF" stroke-width="0.3" >0.6</text>
<line x1="273.2" y1="345.34" x2="275.8" y2="345.34" stroke="#0F32FF" stroke-width="1"/>
<text x="270.2" y="348.94" font-size="10" text-anchor="end" fill="#0F32FF" stroke="#0F32FF" stroke-width="0.3" >0.8</text>
<line x1="273.2" y1="468.76" x2="274.6" y2="468.76" stroke="#0F32FF" stroke-width="1"/>
<line x1="273.2" y1="446.32" x2="274.6" y2="446.32" stroke="#0F32FF" stroke-width="1"/>
<line x1="273.2" y1="423.88" x2="274.6" y2="423.88" stroke="#0F32FF" stroke-width="1"/>
<line x1="273.2" y1="401.44" x2="274.6" y2="401.44" stroke="#0F32FF" stroke-width="1"/>
<line x1="273.2" y1="379" x2="274.6" y2="379" stroke="#0F32FF" stroke-width="1"/>
<line x1="273.2" y1="356.56" x2="274.6" y2="356.56" stroke="#0F32FF" stroke-width="1"/>
<line x1="649.7" y1="480.2" x2="652.3" y2="480.2" stroke="#262626" stroke-width="1"/>
<text x="653" y="483.8" font-size="10" text-anchor="start" fill="#1a1a1a" stroke="#1a1a1a" stroke-width="0.3" >0</text>
<line x1="649.7" y1="453.24" x2="652.3" y2="453.24" stroke="#262626" stroke-width="1"/>
<text x="653" y="456.84" font-size="10" text-anchor="start" fill="#1a1a1a" stroke="#1a1a1a" stroke-width="0.3" >20</text>
<line x1="649.7" y1="426.28" x2="652.3" y2="426.28" stroke="#262626" stroke-width="1"/>
<text x="653" y="429.88" font-size="10" text-anchor="start" fill="#1a1a1a" stroke="#1a1a1a" stroke-width="0.3" >40</text>
<line x1="649.7" y1="399.32" x2="652.3" y2="399.32" stroke="#262626" stroke-width="1"/>
<text x="653" y="402.92" font-size="10" text-anchor="start" fill="#1a1a1a" stroke="#1a1a1a" stroke-width="0.3" >60</text>
<line x1="649.7" y1="372.36" x2="652.3" y2="372.36" stroke="#262626" stroke-width="1"/>
<text x="653" y="375.96" font-size="10" text-anchor="start" fill="#1a1a1a" stroke="#1a1a1a" stroke-width="0.3" >80</text>
<line x1="649.7" y1="345.4" x2="652.3" y2="345.4" stroke="#262626" stroke-width="1"/>
<text x="653" y="349" font-size="10" text-anchor="start" fill="#1a1a1a" stroke="#1a1a1a" stroke-width="0.3" >100</text>
<line x1="649.7" y1="466.72" x2="651.1" y2="466.72" stroke="#262626" stroke-width="1"/>
<line x1="649.7" y1="439.76" x2="651.1" y2="439.76" stroke="#262626" stroke-width="1"/>
<line x1="649.7" y1="412.8" x2="651.1" y2="412.8" stroke="#262626" stroke-width="1"/>
<line x1="649.7" y1="385.84" x2="651.1" y2="385.84" stroke="#262626" stroke-width="1"/>
<line x1="649.7" y1="358.88" x2="651.1" y2="358.88" stroke="#262626" stroke-width="1"/>
<text transform="translate(246.8,412.5) rotate(-90)" font-size="10" text-anchor="middle" fill="#0F32FF" stroke="#0F32FF" stroke-width="0.3">Potential (V vs. RHE)</text>
<text transform="translate(680.8,411.9) rotate(-90)" font-size="10" text-anchor="middle" fill="#1a1a1a" stroke="#1a1a1a" stroke-width="0.3">Faradaic efficiency (%)</text>
<text x="409.6" y="356.2" font-size="11.5" text-anchor="start" fill="#1A76A0" font-weight="bold" >NH<tspan font-size="8.5">3</tspan></text>
<text x="436.3" y="356.2" font-size="11.5" text-anchor="middle" fill="#1a1a1a" font-weight="bold" >|</text>
<text x="441.9" y="356.2" font-size="11.5" text-anchor="start" fill="#E7808E" font-weight="bold" >NH<tspan font-size="8.5">2</tspan>OH</text>
<text x="485.8" y="356.2" font-size="11.5" text-anchor="middle" fill="#1a1a1a" font-weight="bold" >|</text>
<text x="491.7" y="356.2" font-size="11.5" text-anchor="start" fill="#E5CB2A" font-weight="bold" >NO<tspan font-size="8.5">2</tspan><tspan font-size="7" dy="-4.5">-</tspan></text>
<text x="562.4" y="356.2" font-size="10.2" text-anchor="start" fill="#111" stroke="#111" stroke-width="0.3" >@ -300 mA cm<tspan font-size="7" dy="-4">-2</tspan><tspan font-size="7" dy="6" dx="-5">geo</tspan></text>
<path d="M273.40,418.76L274.16,419.43L274.91,419.64L275.67,420.21L276.42,420.57L277.18,420.39L277.93,420.65L278.69,421.70L279.44,421.46L280.20,421.72L280.96,422.67L281.71,422.45L282.47,423.02L283.22,422.93L283.98,423.30L284.73,423.08L285.49,423.72L286.25,424.13L287.00,424.01L287.76,424.38L288.51,424.49L289.27,424.11L290.02,424.90L290.78,424.90L291.53,424.79L292.29,424.69L293.05,425.57L293.80,425.35L294.56,425.70L295.31,425.96L296.07,425.92L296.82,426.22L297.58,425.85L298.34,426.32L299.09,426.09L299.85,426.63L300.60,426.67L301.36,426.05L302.11,426.17L302.87,426.32L303.62,427.07L304.38,426.66L305.14,426.90L305.89,426.68L306.65,426.92L307.40,426.88L308.16,426.90L308.91,427.17L309.67,427.22L310.43,427.56L311.18,427.41L311.94,427.68L312.69,427.66L313.45,427.83L314.20,427.58L314.96,427.16L315.71,427.83L316.47,427.96L317.23,427.94L317.98,427.67L318.74,427.84L319.49,427.41L320.25,428.00L321.00,427.80L321.76,427.57L322.52,427.39L323.27,428.13L324.03,428.28L324.78,427.49L325.54,428.15L326.29,427.82L327.05,427.61L327.81,427.76L328.56,428.20L329.32,428.31L330.07,427.99L330.83,428.48L331.58,427.94L332.34,428.53L333.09,428.16L333.85,428.63L334.61,428.70L335.36,428.25L336.12,428.67L336.87,428.03L337.63,427.80L338.38,428.25L339.14,427.72L339.89,427.85L340.65,428.02L341.41,428.18L342.16,427.75L342.92,427.63L343.67,428.36L344.43,427.84L345.18,428.41L345.94,428.33L346.70,427.85L347.45,427.91L348.21,427.95L348.96,428.05L349.72,427.99L350.47,427.95L351.23,427.99L351.99,428.27L352.74,427.87L353.50,427.79L354.25,428.04L355.01,427.60L355.76,427.65L356.52,428.25L357.27,427.84L358.03,427.85L358.79,427.37L359.54,427.73L360.30,427.87L361.05,427.37L361.81,427.90L362.56,427.92L363.32,427.41L364.07,427.92L364.83,427.78L365.59,427.97L366.34,427.68L367.10,428.00L367.85,428.04L368.61,427.40L369.36,427.44L370.12,428.01L370.88,428.27L371.63,427.64L372.39,427.84L373.14,427.97L373.90,427.74L374.65,427.79L375.41,427.76L376.17,427.82L376.92,428.04L377.68,427.79L378.43,427.87L379.19,428.25L379.94,427.59L380.70,428.10L381.45,428.27L382.21,427.90L382.97,427.84L383.72,428.38L384.48,427.89L385.23,427.87L385.99,428.11L386.74,428.37L387.50,427.85L388.25,428.07L389.01,428.10L389.77,428.58L390.52,428.24L391.28,428.64L392.03,428.04L392.79,428.22L393.54,428.52L394.30,428.76" fill="none" stroke="#0F32FF" stroke-width="2.0" stroke-linejoin="round"/>
<path d="M394.70,413.17L394.70,419.44L395.45,420.18L396.21,421.12L396.96,421.51L397.71,422.39L398.47,422.85L399.22,422.84L399.97,423.23L400.72,423.84L401.48,423.99L402.23,424.30L402.98,424.22L403.74,424.26L404.49,424.50L405.24,424.94L406.00,424.74L406.75,424.89L407.50,425.03L408.26,425.12L409.01,425.19L409.76,425.57L410.52,425.18L411.27,425.15L412.02,425.77L412.77,425.79L413.53,425.91L414.28,425.62L415.03,425.98L415.79,426.01L416.54,425.64L417.29,425.99L418.05,426.09L418.80,426.03L419.55,425.98L420.31,425.88L421.06,425.95L421.81,425.93L422.57,425.87L423.32,426.22L424.07,426.08L424.82,426.43L425.58,426.01L426.33,426.56L427.08,426.47L427.84,426.65L428.59,426.67L429.34,426.70L430.10,426.55L430.85,426.25L431.60,426.72L432.36,426.41L433.11,426.53L433.86,426.78L434.62,426.74L435.37,426.70L436.12,427.06L436.88,426.90L437.63,426.77L438.38,426.75L439.13,427.16L439.89,426.96L440.64,427.18L441.39,426.96L442.15,426.90L442.90,427.14L443.65,427.35L444.41,427.00L445.16,427.40L445.91,427.52L446.67,427.48L447.42,427.53L448.17,427.08L448.93,427.49L449.68,427.66L450.43,427.21L451.18,427.38L451.94,427.42L452.69,427.61L453.44,427.58L454.20,427.65L454.95,427.87L455.70,427.44L456.46,427.51L457.21,427.58L457.96,427.62L458.72,427.62L459.47,428.20L460.22,428.17L460.98,427.74L461.73,428.03L462.48,427.95L463.23,427.99L463.99,428.05L464.74,428.26L465.49,428.26L466.25,428.16L467.00,428.09L467.75,428.21L468.51,428.13L469.26,428.42L470.01,428.55L470.77,428.39L471.52,428.25L472.27,428.34L473.03,428.49L473.78,428.67L474.53,428.81L475.28,428.61L476.04,428.90L476.79,428.83L477.54,428.75L478.30,428.75L479.05,428.86L479.80,429.02L480.56,428.88L481.31,429.09L482.06,428.98L482.82,428.89L483.57,429.10L484.32,429.23L485.08,428.89L485.83,429.14L486.58,429.18L487.33,429.49L488.09,429.56L488.84,429.26L489.59,429.61L490.35,429.58L491.10,429.30L491.85,429.45L492.61,429.29L493.36,429.74L494.11,429.68L494.87,429.85L495.62,429.83L496.37,429.79L497.12,429.87L497.88,429.80L498.63,429.56L499.38,429.89L500.14,429.58L500.89,429.70L501.64,430.11L502.40,429.71L503.15,429.78L503.90,429.82L504.66,430.32L505.41,429.94L506.16,429.88L506.92,430.41L507.67,430.01L508.42,430.48L509.18,430.41L509.93,430.55L510.68,430.65L511.43,430.47L512.19,430.63L512.94,430.21L513.69,430.69L514.45,430.57L515.20,430.73" fill="none" stroke="#0F32FF" stroke-width="2.0" stroke-linejoin="round"/>
<path d="M515.50,412.95L515.50,420.02L516.26,420.60L517.02,420.16L517.78,420.67L518.54,421.12L519.30,421.56L520.06,421.20L520.82,421.30L521.58,421.49L522.34,421.94L523.10,422.17L523.86,421.95L524.62,422.02L525.38,422.13L526.14,422.18L526.90,422.32L527.66,422.10L528.42,422.56L529.18,423.06L529.94,422.64L530.70,423.02L531.46,422.56L532.22,423.12L532.98,423.25L533.74,423.25L534.50,423.19L535.26,423.23L536.02,423.45L536.78,423.76L537.54,423.16L538.30,423.19L539.06,423.85L539.82,424.07L540.58,423.79L541.34,423.80L542.10,424.12L542.86,423.72L543.62,423.87L544.38,423.88L545.14,424.30L545.90,424.13L546.66,424.13L547.42,424.62L548.18,424.93L548.94,424.42L549.70,424.86L550.46,424.67L551.22,425.14L551.98,424.98L552.74,424.77L553.50,424.80L554.26,424.70L555.02,425.18L555.78,425.17L556.54,425.06L557.30,425.30L558.06,425.34L558.82,425.82L559.58,425.33L560.34,426.17L561.10,425.78L561.86,425.96L562.62,425.92L563.38,426.33L564.14,426.39L564.90,426.23L565.66,426.23L566.42,426.52L567.18,426.72L567.94,426.39L568.70,426.76L569.46,427.04L570.22,426.67L570.98,426.53L571.74,426.61L572.50,427.12L573.26,427.16L574.02,427.49L574.78,427.47L575.54,426.99L576.30,427.02L577.06,427.16L577.82,427.17L578.58,427.71L579.34,427.92L580.10,428.03L580.86,427.53L581.62,428.15L582.38,427.73L583.14,427.91L583.90,428.26L584.66,427.75L585.42,427.83L586.18,428.58L586.94,428.16L587.70,428.30L588.46,428.57L589.22,428.73L589.98,428.21L590.74,428.58L591.50,428.74L592.26,428.86L593.02,428.69L593.78,429.10L594.54,429.51L595.30,429.08L596.06,429.29L596.82,428.98L597.58,429.20L598.34,429.62L599.10,429.20L599.86,429.97L600.62,430.07L601.38,429.41L602.14,430.25L602.90,429.81L603.66,430.25L604.42,430.31L605.18,429.97L605.94,430.38L606.70,430.44L607.46,430.65L608.22,430.24L608.98,430.75L609.74,431.02L610.50,430.83L611.26,430.78L612.02,430.48L612.78,430.89L613.54,430.84L614.30,431.25L615.06,431.29L615.82,431.26L616.58,430.99L617.34,431.48L618.10,431.54L618.86,431.21L619.62,431.93L620.38,431.79L621.14,431.39L621.90,432.19L622.66,431.55L623.42,431.80L624.18,432.22L624.94,432.19L625.70,432.22L626.46,432.38L627.22,432.29L627.98,432.23L628.74,432.18L629.50,432.16L630.26,432.82L631.02,432.93L631.78,432.81L632.54,433.07L633.30,432.80L634.06,432.79L634.82,432.97L635.58,433.49L636.34,432.81L637.10,433.30" fill="none" stroke="#0F32FF" stroke-width="2.0" stroke-linejoin="round"/>
<line x1="416.6" y1="445.5" x2="395.2" y2="430.3" stroke="#111" stroke-width="1.3"/>
<polygon points="395.20,430.30 403.52,432.41 400.25,433.89 399.93,437.46" fill="#111"/>
<line x1="495.3" y1="449.5" x2="515.7" y2="432.4" stroke="#111" stroke-width="1.3"/>
<polygon points="515.70,432.40 511.56,439.91 510.95,436.38 507.58,435.16" fill="#111"/>
<text x="432.8" y="423.6" font-size="11.3" text-anchor="start" fill="#111" stroke="#111" stroke-width="0.3" >Overnight</text>
<text x="412.2" y="464.6" font-size="11.3" text-anchor="start" fill="#111" stroke="#111" stroke-width="0.3" >Renew electrolyte</text>
<path d="M286,386.5 C290.18,385.58 302.75,383.43 311.1,381 C319.45,378.57 327.82,374.7 336.1,371.9 C344.38,369.1 352.43,366.57 360.8,364.2 C369.17,361.83 382.05,358.78 386.3,357.7" fill="none" stroke="#1A7AA3" stroke-width="1.6"/>
<path d="M284.70,380.70h2.6M286.00,380.70V392.30M284.70,392.30h2.6" stroke="#1A7AA3" stroke-width="1.1" fill="none"/>
<polygon points="289.40,386.50 283.90,383.20 283.90,389.80" fill="#1A7AA3"/>
<path d="M309.80,373.90h2.6M311.10,373.90V388.10M309.80,388.10h2.6" stroke="#1A7AA3" stroke-width="1.1" fill="none"/>
<polygon points="314.50,381.00 309.00,377.70 309.00,384.30" fill="#1A7AA3"/>
<path d="M334.80,367.30h2.6M336.10,367.30V376.50M334.80,376.50h2.6" stroke="#1A7AA3" stroke-width="1.1" fill="none"/>
<polygon points="339.50,371.90 334.00,368.60 334.00,375.20" fill="#1A7AA3"/>
<path d="M359.50,361.20h2.6M360.80,361.20V367.20M359.50,367.20h2.6" stroke="#1A7AA3" stroke-width="1.1" fill="none"/>
<polygon points="364.20,364.20 358.70,360.90 358.70,367.50" fill="#1A7AA3"/>
<path d="M385.00,354.70h2.6M386.30,354.70V360.70M385.00,360.70h2.6" stroke="#1A7AA3" stroke-width="1.1" fill="none"/>
<polygon points="389.70,357.70 384.20,354.40 384.20,361.00" fill="#1A7AA3"/>
<path d="M286,452.8 C290.18,453.2 302.75,453.77 311.1,455.2 C319.45,456.63 327.82,459.67 336.1,461.4 C344.38,463.13 352.43,464.15 360.8,465.6 C369.17,467.05 382.05,469.35 386.3,470.1" fill="none" stroke="#E7808E" stroke-width="1.6"/>
<path d="M284.70,445.10h2.6M286.00,445.10V460.50M284.70,460.50h2.6" stroke="#E7808E" stroke-width="1.1" fill="none"/>
<polygon points="289.40,452.80 283.90,449.50 283.90,456.10" fill="#E7808E"/>
<path d="M309.80,448.40h2.6M311.10,448.40V462.00M309.80,462.00h2.6" stroke="#E7808E" stroke-width="1.1" fill="none"/>
<polygon points="314.50,455.20 309.00,451.90 309.00,458.50" fill="#E7808E"/>
<path d="M334.80,453.10h2.6M336.10,453.10V469.70M334.80,469.70h2.6" stroke="#E7808E" stroke-width="1.1" fill="none"/>
<polygon points="339.50,461.40 334.00,458.10 334.00,464.70" fill="#E7808E"/>
<path d="M359.50,458.80h2.6M360.80,458.80V472.40M359.50,472.40h2.6" stroke="#E7808E" stroke-width="1.1" fill="none"/>
<polygon points="364.20,465.60 358.70,462.30 358.70,468.90" fill="#E7808E"/>
<path d="M385.00,464.30h2.6M386.30,464.30V475.90M385.00,475.90h2.6" stroke="#E7808E" stroke-width="1.1" fill="none"/>
<polygon points="389.70,470.10 384.20,466.80 384.20,473.40" fill="#E7808E"/>
<path d="M286,472.9 C290.18,473.12 302.75,473.6 311.1,474.2 C319.45,474.8 327.82,475.87 336.1,476.5 C344.38,477.13 352.43,477.63 360.8,478 C369.17,478.37 382.05,478.58 386.3,478.7" fill="none" stroke="#E5CB2A" stroke-width="1.6"/>
<polygon points="289.40,472.90 283.90,469.60 283.90,476.20" fill="#E5CB2A"/>
<polygon points="314.50,474.20 309.00,470.90 309.00,477.50" fill="#E5CB2A"/>
<polygon points="339.50,476.50 334.00,473.20 334.00,479.80" fill="#E5CB2A"/>
<polygon points="364.20,478.00 358.70,474.70 358.70,481.30" fill="#E5CB2A"/>
<polygon points="389.70,478.70 384.20,475.40 384.20,482.00" fill="#E5CB2A"/>
<path d="M531.9,394.8 C537.07,392.55 551.6,385.32 562.9,381.3 C574.2,377.28 587.37,373.9 599.7,370.7 C612.03,367.5 630.7,363.53 636.9,362.1" fill="none" stroke="#1A7AA3" stroke-width="1.6"/>
<path d="M530.60,389.00h2.6M531.90,389.00V400.60M530.60,400.60h2.6" stroke="#1A7AA3" stroke-width="1.1" fill="none"/>
<polygon points="535.30,394.80 529.80,391.50 529.80,398.10" fill="#1A7AA3"/>
<path d="M561.60,372.70h2.6M562.90,372.70V389.90M561.60,389.90h2.6" stroke="#1A7AA3" stroke-width="1.1" fill="none"/>
<polygon points="566.30,381.30 560.80,378.00 560.80,384.60" fill="#1A7AA3"/>
<path d="M598.40,364.60h2.6M599.70,364.60V376.80M598.40,376.80h2.6" stroke="#1A7AA3" stroke-width="1.1" fill="none"/>
<polygon points="603.10,370.70 597.60,367.40 597.60,374.00" fill="#1A7AA3"/>
<path d="M635.60,359.50h2.6M636.90,359.50V364.70M635.60,364.70h2.6" stroke="#1A7AA3" stroke-width="1.1" fill="none"/>
<polygon points="640.30,362.10 634.80,358.80 634.80,365.40" fill="#1A7AA3"/>
<path d="M531.9,444.9 C537.07,446.57 551.6,451.67 562.9,454.9 C574.2,458.13 587.37,461.73 599.7,464.3 C612.03,466.87 630.7,469.3 636.9,470.3" fill="none" stroke="#E7808E" stroke-width="1.6"/>
<path d="M530.60,442.00h2.6M531.90,442.00V447.80M530.60,447.80h2.6" stroke="#E7808E" stroke-width="1.1" fill="none"/>
<polygon points="535.30,444.90 529.80,441.60 529.80,448.20" fill="#E7808E"/>
<path d="M561.60,448.30h2.6M562.90,448.30V461.50M561.60,461.50h2.6" stroke="#E7808E" stroke-width="1.1" fill="none"/>
<polygon points="566.30,454.90 560.80,451.60 560.80,458.20" fill="#E7808E"/>
<path d="M598.40,456.60h2.6M599.70,456.60V472.00M598.40,472.00h2.6" stroke="#E7808E" stroke-width="1.1" fill="none"/>
<polygon points="603.10,464.30 597.60,461.00 597.60,467.60" fill="#E7808E"/>
<path d="M635.60,463.30h2.6M636.90,463.30V477.30M635.60,477.30h2.6" stroke="#E7808E" stroke-width="1.1" fill="none"/>
<polygon points="640.30,470.30 634.80,467.00 634.80,473.60" fill="#E7808E"/>
<path d="M531.9,471.5 C537.07,471.9 551.6,473.05 562.9,473.9 C574.2,474.75 587.37,475.92 599.7,476.6 C612.03,477.28 630.7,477.77 636.9,478" fill="none" stroke="#E5CB2A" stroke-width="1.6"/>
<polygon points="535.30,471.50 529.80,468.20 529.80,474.80" fill="#E5CB2A"/>
<polygon points="566.30,473.90 560.80,470.60 560.80,477.20" fill="#E5CB2A"/>
<polygon points="603.10,476.60 597.60,473.30 597.60,479.90" fill="#E5CB2A"/>
<polygon points="640.30,478.00 634.80,474.70 634.80,481.30" fill="#E5CB2A"/>
</svg>
</body></html>
